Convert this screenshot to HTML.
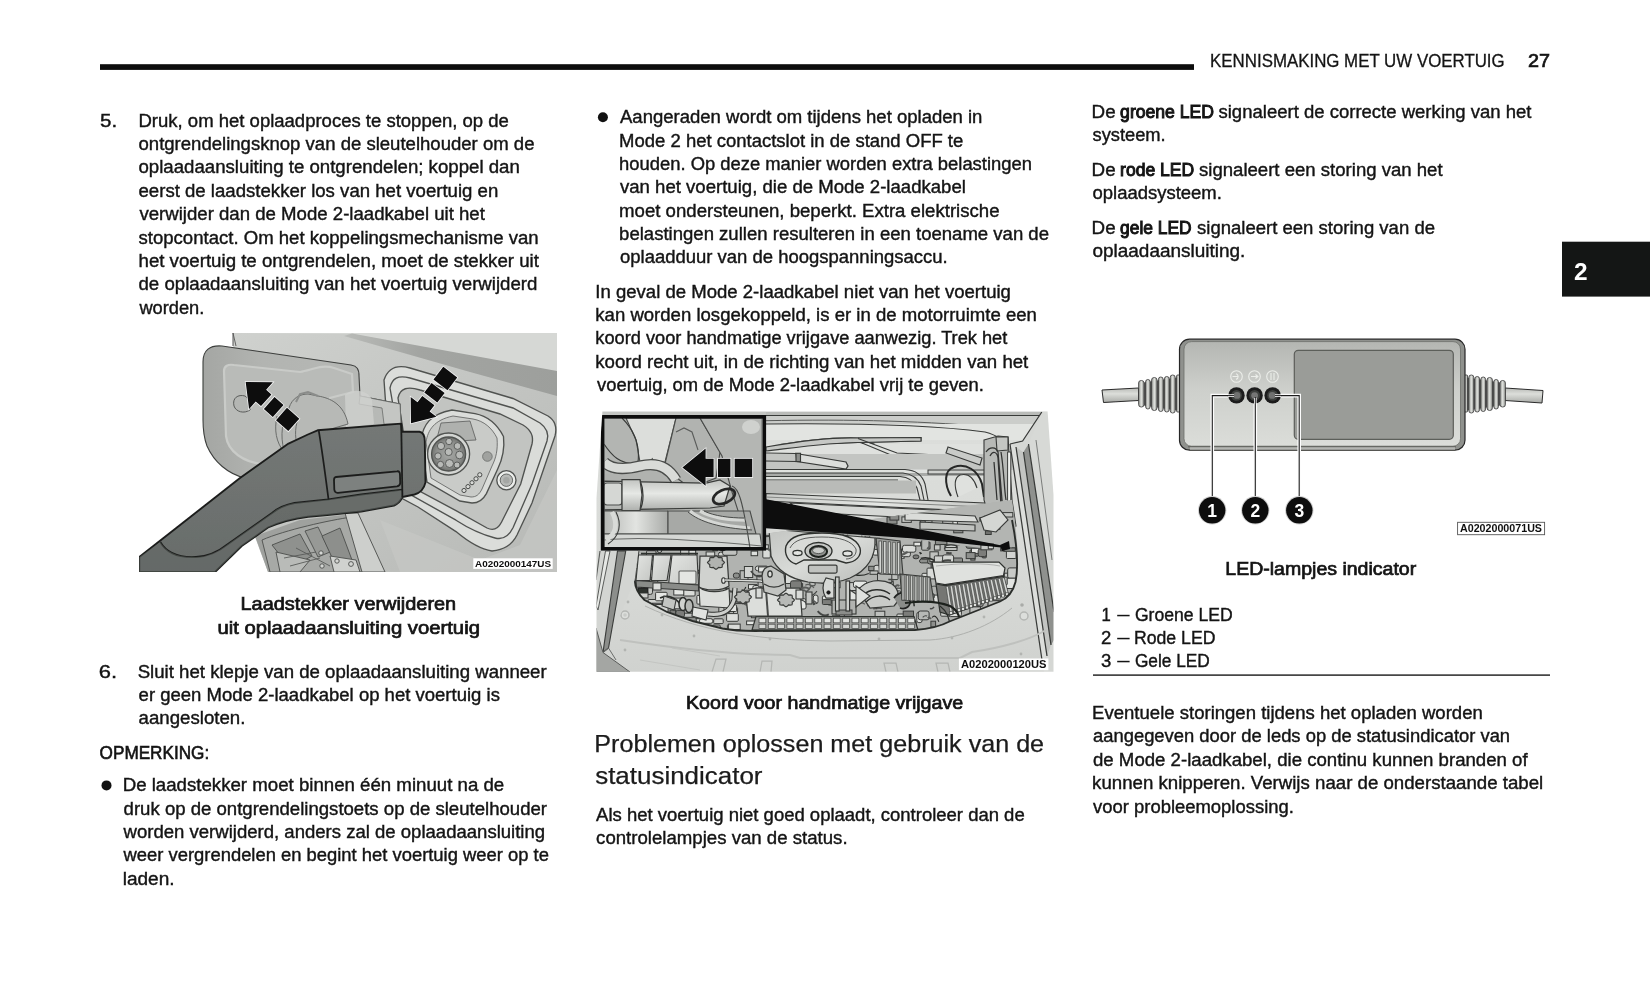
<!DOCTYPE html>
<html lang="nl"><head><meta charset="utf-8"><title>Kennismaking met uw voertuig</title>
<style>
html,body{margin:0;padding:0;background:#fff;}
body{width:1650px;height:1000px;overflow:hidden;position:relative;font-family:"Liberation Sans",sans-serif;}
svg{position:absolute;left:0;top:0;display:block;will-change:transform;}
text{font-family:"Liberation Sans",sans-serif;fill:#141414;stroke:#141414;stroke-width:0.4px;}
.t{font-size:18.0px;}
.bd{stroke-width:1.0px;}
.med{font-size:18.0px;stroke:#141414;stroke-width:0.6px;}
.cap{font-size:17.9px;stroke:#141414;stroke-width:0.7px;}
.h{font-size:24.2px;fill:#1c1c1c;stroke-width:0.25px;}
.hd{font-size:18.2px;stroke-width:0.3px;}
.hdn{font-size:18.2px;stroke:#141414;stroke-width:0.7px;}
.lbl{font-size:9px;font-weight:bold;fill:#111;}
</style></head>
<body>
<svg width="1650" height="1000" viewBox="0 0 1650 1000">
<defs><filter id="soft" x="-2%" y="-2%" width="104%" height="104%"><feGaussianBlur stdDeviation="0.45"/></filter></defs>
<!-- header rule -->
<rect x="100" y="64.2" width="1094" height="5.7" fill="#0d0d0d"/>
<!-- chapter tab -->
<rect x="1562" y="241.7" width="88" height="54.9" fill="#141615"/>
<text x="1573.9" y="280.0" style="font-size:24.6px;font-weight:bold;fill:#fff;stroke:none" textLength="13.6" lengthAdjust="spacingAndGlyphs">2</text>
<!-- bullets -->
<circle cx="106.5" cy="785.4" r="5.0" fill="#111"/>
<circle cx="602.9" cy="117.3" r="5.0" fill="#111"/>
<!-- legend dashes -->
<rect x="1117.2" y="614.8" width="12.4" height="1.5" fill="#141414"/><rect x="1117.2" y="637.8" width="12.4" height="1.5" fill="#141414"/><rect x="1117.2" y="660.8" width="12.4" height="1.5" fill="#141414"/>
<!-- legend rule -->
<rect x="1093" y="674.4" width="457" height="1.4" fill="#1a1a1a"/>
<!-- ===== image 1 : charge plug ===== -->
<defs>
<clipPath id="c1"><rect x="139.3" y="333" width="417.5" height="238.7"/></clipPath>
<linearGradient id="g1body" x1="0" y1="0" x2="1" y2="1"><stop offset="0" stop-color="#cfd1ce"/><stop offset="0.5" stop-color="#c3c5c2"/><stop offset="1" stop-color="#b7b9b6"/></linearGradient>
<linearGradient id="g1band" x1="0" y1="0" x2="1" y2="0"><stop offset="0" stop-color="#b9bbb8"/><stop offset="0.35" stop-color="#a3a5a2"/><stop offset="1" stop-color="#9d9f9c"/></linearGradient>
<linearGradient id="g1flap" x1="0" y1="0" x2="1" y2="0"><stop offset="0" stop-color="#a4a6a3"/><stop offset="0.3" stop-color="#b2b4b1"/><stop offset="1" stop-color="#b8bab7"/></linearGradient>
<linearGradient id="g1hand" x1="0" y1="0" x2="0" y2="1"><stop offset="0" stop-color="#747876"/><stop offset="1" stop-color="#686c6a"/></linearGradient>
<radialGradient id="g1sock" cx="0.5" cy="0.5" r="0.5"><stop offset="0" stop-color="#a6a8a5"/><stop offset="0.75" stop-color="#8b8d8a"/><stop offset="1" stop-color="#6f716e"/></radialGradient>
</defs>
<g id="img1" clip-path="url(#c1)"><g filter="url(#soft)">
<!-- car body -->
<path d="M233,333 L557,333 L557,572 L268,572 L255,537 L240,480 L233,345 Z" fill="url(#g1body)"/>
<path d="M236,333 L557,333 L557,372 L352,334 Z" fill="#d6d8d5"/>
<!-- diagonal shadow band -->
<path d="M344,336 L352,333.5 L557,371 L557,396 L470,372 Z" fill="url(#g1band)"/>
<path d="M233,333 L233,346" stroke="#555" stroke-width="1"/>
<!-- lower right body lighter patch -->
<path d="M557,470 L557,572 L400,572 L380,520 L480,560 L520,545 Z" fill="#c6c8c5" opacity="0.7"/>
<!-- wheel area -->
<path d="M255,536 L268,572 L372,572 L352,514 L300,520 Z" fill="#9fa19e"/>
<g stroke="#4c4e4c" stroke-width="0.9" fill="#c9cbc8">
<path d="M262,540 C285,530 330,520 352,517 L372,572 L270,572 Z" fill="#a7a9a6"/>
<path d="M272,545 L300,534 L312,556 L290,568 Z" fill="#8f918e"/>
<path d="M305,531 L318,527 L330,552 L318,557 Z" fill="#979996"/>
<path d="M322,536 L340,528 L352,560 L336,566 Z" fill="#8d8f8c"/>
<path d="M276,552 L310,560 L300,572 L280,572 Z" fill="#b9bbb8"/>
<path d="M330,556 L356,560 L360,572 L334,572 Z" fill="#d0d2cf"/>
<path d="M284,558 L316,552 M290,566 L320,558 M296,548 L330,566" fill="none" stroke="#595b59"/>
<circle cx="321" cy="553" r="2.2" fill="#d5d7d4"/><circle cx="337" cy="561" r="2.2" fill="#d5d7d4"/><circle cx="322" cy="566" r="2.2" fill="#d5d7d4"/><circle cx="351" cy="564" r="2.4" fill="#d5d7d4"/>
</g>
<!-- door gap lines under handle -->
<path d="M345,513 L358,513 L385,572 L362,572 Z" fill="#cdcfcc" stroke="#4a4c4a" stroke-width="0.9"/>
<!-- recess contours -->
<path d="M384,380 C388,368 396,364 410,368 L513,398.5 L548,416 C556,421 557,428 555,436 L545,465 L532,503 L517,535 C512,545 504,550 492,551 C478,549 466,540 456,531.6 L418,507 L392,493 Z" fill="#dbddda" stroke="#505250" stroke-width="1.35"/>
<path d="M390,388 C392,378 398,375 410,378 L513,408 L540,423 C547,428 549,434 547,441 L532,484 L513,527.8 C509,536 503,540 495,538 C480,534 468,528 456,520.2 L408.5,493.6 Z" fill="#dadcd9" stroke="#505250" stroke-width="1.35"/>
<path d="M398,398 C400,388 408,386 420,390 L500,414 L523,425 C531,430 534,436 532,444 L520.7,484 L501.6,522 C498,529 493,531 487,528 L456,510.7 L412,487 Z" fill="#c2c4c1" stroke="#505250" stroke-width="1.35"/>
<!-- port frame -->
<path d="M427,482 L421,440 C423,425 430,414 452,410 L475,413.7 C487,416 497,424 503.5,436.5 C505,450 502,460 497.8,468.8 L486.4,493.6 C483,500 479,503 472,503 L459.8,501 Z" fill="#dbddda" stroke="#505250" stroke-width="1.35"/>
<path d="M431,478 L426,442 C428,430 434,420 453,416 L473,419 C484,421 492,428 497,438 C498,450 496,458 492,466 L482,489 C479,495 476,497 471,497 L460,495 Z" fill="#c9cbc8" stroke="#5a5c5a" stroke-width="0.8"/>
<!-- socket -->
<path d="M441,423 L470,421 L476,440 L436,442 Z" fill="#afb1ae" stroke="#5a5c5a" stroke-width="0.8"/>
<circle cx="448.6" cy="454" r="21" fill="#d3d5d2" stroke="#505250" stroke-width="1.35"/>
<circle cx="448.6" cy="454" r="17" fill="url(#g1sock)" stroke="#505250" stroke-width="1.35"/>
<g fill="#b9bbb8" stroke="#555755" stroke-width="0.9">
<circle cx="441" cy="446" r="3.6"/><circle cx="449" cy="441.5" r="3.2"/><circle cx="457.5" cy="446" r="3.4"/>
<circle cx="438" cy="456" r="3.2"/><circle cx="448.6" cy="452" r="3.6"/><circle cx="459.5" cy="455" r="3.8"/>
<circle cx="440.5" cy="464.5" r="3.2"/><circle cx="449.5" cy="463.5" r="4"/><circle cx="457" cy="465" r="3"/>
</g>
<!-- small parts -->
<circle cx="487.4" cy="456.5" r="4.8" fill="#a0a29f" stroke="#6a6c6a" stroke-width="0.8"/>
<circle cx="506.4" cy="480.2" r="9.6" fill="#eceeeb" stroke="#505250" stroke-width="1.35"/>
<circle cx="506.4" cy="480.2" r="6.2" fill="#b7b9b6" stroke="#5a5c5a" stroke-width="0.9"/>
<circle cx="506.4" cy="480.2" r="3.2" fill="#a5a7a4"/>
<g fill="#d8dad7" stroke="#3c3e3c" stroke-width="0.9"><circle cx="464" cy="490.5" r="2.1"/><circle cx="468" cy="486.6" r="2.1"/><circle cx="472" cy="482.7" r="2.1"/><circle cx="476" cy="478.8" r="2.1"/><circle cx="479.8" cy="474.8" r="2.1"/></g>
<!-- flap door -->
<path d="M203,362 C203,350 210,345 222,346 L351,365 C357,366 359,369 359,376 L360,396 L400,404 L401,424 L314,432 L282,450 L245,478 C228,474 214,462 207,446 C204,438 203,430 203,420 Z" fill="url(#g1flap)" stroke="#3c3e3c" stroke-width="1.1"/>
<path d="M224,371 C224,366 228,364 234,365 L300,372 C312,370 322,364 334,368 L352,374 L353,392 L330,398 L312,432 L282,450 L262,464 C244,462 228,452 226,436 Z" fill="#b9bbb8" stroke="#c9cbc8" stroke-width="2.2"/>
<path d="M233,333 L236,346" stroke="#555" stroke-width="0.9"/>
<!-- hinge arm / latch shapes on flap -->
<path d="M360,396 L400,404 L401,424 L384,424 L382,408 L359,404 Z" fill="#c4c6c3" stroke="#6a6c6a" stroke-width="0.8"/>
<path d="M345,395 C352,388 368,390 372,400 L374,424 L346,428 Z" fill="#cfd1ce" opacity="0.8"/>
<path d="M289,408 C292,398 300,394 308,394 L318,396 C330,398 344,404 348,424 L300,438 L284,450 C280,436 282,420 289,408 Z" fill="#b7b9b6" stroke="#6a6c6a" stroke-width="1"/>
<path d="M296,402 L300,394 L308,392 L318,396" fill="none" stroke="#8a8c8a" stroke-width="2"/>
<path d="M277,416 C274,430 276,442 284,452 M297,422 C294,434 296,444 300,452" fill="none" stroke="#6a6c6a" stroke-width="1"/>
<path d="M245,396 C238,394 232,398 234,406 C236,412 244,414 250,410 L252,402 Z" fill="#b4b6b3" stroke="#5a5c5a" stroke-width="1"/>
<!-- handle -->
<path d="M139.3,557 L240,478 L288.5,443.6 L307.9,434.5 L317.6,430.3 L401.2,423.6 L402,431.8 L419.4,431.8 C423,432.5 424.8,436 424.8,441.2 L425.5,482.4 C424,489 420,493 414.5,494.5 L402.4,497 C400,502 398,504 394,505.5 L361.2,511.5 L324.8,515.2 L308,516.7 C290,519 278,523 268,527.5 L255,536.7 L241.7,546 L215,572 L139.3,572 Z" fill="url(#g1hand)" stroke="#1c1e1c" stroke-width="1.9" stroke-linejoin="round"/>
<path d="M402.4,489.7 L361.2,494.5 L328.5,499.4 L294.5,503 C284,505 278,508 272,513 L228,544 C218,552 208,556.5 196,557 C178,558 166,552 160.3,542" fill="none" stroke="#1c1e1c" stroke-width="1.8"/>
<path d="M402.4,489.7 L361.2,494.5 L328.5,499.4 L294.5,503 C284,505 278,508 272,513 L228,544 C218,552 208,556.5 196,557 C178,558 166,552 160.3,542 L139.3,557 L139.3,572 L215,572 L241.7,546 L255,536.7 L268,527.5 C278,523 290,519 308,516.7 L324.8,515.2 L361.2,511.5 L394,505.5 C398,504 400,502 402.4,497 Z" fill="#636765" opacity="0.55"/>
<path d="M318.8,431 C322,450 326,480 328.5,499.4" fill="none" stroke="#1c1e1c" stroke-width="1.7"/>
<path d="M401.2,423.6 L402.4,497" fill="none" stroke="#1c1e1c" stroke-width="1.8"/>
<path d="M336,477 L397,471.3 C399.5,471 400,473 400,475 L400.2,483 C400.2,485 399,486 397,486.3 L338,492.8 C335.5,493 334.5,491.5 334.3,489.5 L334,480 C334,478 334.5,477.2 336,477 Z" fill="#7d817f" stroke="#1c1e1c" stroke-width="1.8"/>
<!-- arrows -->
<polygon points="245.7,382.0 272.8,382.3 266.1,389.8 271.4,394.5 261.0,406.1 255.7,401.4 249.1,408.9" fill="#08080a" stroke="#f4f4f4" stroke-width="1.6" stroke-linejoin="miter" paint-order="stroke"/>
<polygon points="274.5,397.0 283.5,405.0 272.8,416.9 263.9,408.9" fill="#08080a" stroke="#f4f4f4" stroke-width="1.6" stroke-linejoin="miter" paint-order="stroke"/>
<polygon points="287.0,407.8 299.3,418.8 288.3,431.1 276.0,420.2" fill="#08080a" stroke="#f4f4f4" stroke-width="1.6" stroke-linejoin="miter" paint-order="stroke"/>
<polygon points="411.0,423.3 410.7,397.1 417.5,402.3 422.3,396.1 434.4,405.3 429.6,411.6 436.4,416.8" fill="#08080a" stroke="#f4f4f4" stroke-width="1.6" stroke-linejoin="miter" paint-order="stroke"/>
<polygon points="424.3,392.5 431.6,383.0 444.6,393.0 437.3,402.5" fill="#08080a" stroke="#f4f4f4" stroke-width="1.6" stroke-linejoin="miter" paint-order="stroke"/>
<polygon points="433.5,379.5 443.3,366.8 457.2,377.5 447.5,390.2" fill="#08080a" stroke="#f4f4f4" stroke-width="1.6" stroke-linejoin="miter" paint-order="stroke"/>
<!-- id label -->
<rect x="473.3" y="558.3" width="79.4" height="10.6" fill="#fff"/>
<text x="475" y="567.2" textLength="76" lengthAdjust="spacingAndGlyphs" style="font-size:9.6px;font-weight:bold;fill:#111;stroke:none">A0202000147US</text>
</g>
</g>

<!-- ===== image 2 : engine bay ===== -->
<defs>
<clipPath id="c2"><path d="M602.4,411.5 L1047.6,411.5 L1053.5,495 L1053.5,671.7 L596.5,671.7 L596.5,498 Z"/></clipPath>
<clipPath id="c2in"><rect x="604.3" y="418.1" width="157.3" height="129.2"/></clipPath>
<clipPath id="c2eng"><path d="M638.5,551 L1012,500 C1018,540 1020,570 1015.5,582 C1013,592 1008,597 1000,601 L949.5,621 C940,626 930,628.5 915,629.5 L755,630.5 C740,630.5 730,630 722.5,628.5 L692.5,621 L667,612 L644.5,600 C637,592 634,586 634.7,578 Z"/></clipPath>
<linearGradient id="g2h" x1="0" y1="0" x2="1" y2="0"><stop offset="0" stop-color="#c9cbc8"/><stop offset="0.5" stop-color="#e4e6e3"/><stop offset="1" stop-color="#c6c8c5"/></linearGradient>
<linearGradient id="g2tube" x1="0" y1="0" x2="0" y2="1"><stop offset="0" stop-color="#c2c4c1"/><stop offset="0.45" stop-color="#e6e8e5"/><stop offset="1" stop-color="#aeb0ad"/></linearGradient>
<linearGradient id="g2tubeh" x1="0" y1="0" x2="1" y2="0"><stop offset="0" stop-color="#b5b7b4"/><stop offset="0.5" stop-color="#e2e4e1"/><stop offset="1" stop-color="#a9aba8"/></linearGradient>
<linearGradient id="g2panel" x1="0" y1="0" x2="0" y2="1"><stop offset="0" stop-color="#dcdedb"/><stop offset="0.6" stop-color="#d8dad7"/><stop offset="1" stop-color="#d0d2cf"/></linearGradient>
<linearGradient id="g2cover" x1="0" y1="0" x2="1" y2="1"><stop offset="0" stop-color="#c3c5c2"/><stop offset="0.5" stop-color="#d9dbd8"/><stop offset="1" stop-color="#b9bbb8"/></linearGradient>
<linearGradient id="g2box" x1="0" y1="0" x2="1" y2="1"><stop offset="0" stop-color="#e3e5e2"/><stop offset="1" stop-color="#c4c6c3"/></linearGradient>
</defs>
<g id="img2" clip-path="url(#c2)"><g filter="url(#soft)">
<rect x="596.0" y="411.0" width="458.0" height="261.0" rx="0" fill="url(#g2panel)" stroke="none" stroke-width="0.00" />
<rect x="596.0" y="411.5" width="458.0" height="4.0" rx="0" fill="#babcb9" stroke="none" stroke-width="0.00" />
<path d="M596,415.5 H1054" fill="none" stroke="#383a38" stroke-width="1.12" />
<rect x="596.0" y="416.0" width="458.0" height="8.0" rx="0" fill="#cbcdca" stroke="none" stroke-width="0.00" />
<path d="M766,420.7 C850,419 930,421 1000,428" fill="none" stroke="#5a5c5a" stroke-width="1.00" />
<rect x="766.0" y="424.0" width="282.0" height="16.0" rx="0" fill="#e2e4e1" stroke="none" stroke-width="0.00" />
<path d="M766,424 C860,423 940,426 985,432 C1000,436 1005,442 1010,447" fill="none" stroke="#383a38" stroke-width="1.12" />
<path d="M766,447 C800,441 830,437 858,438 L921,437.5 L921,441 L860,442.5 C835,442 800,447 766,451 Z" fill="#cfd1ce" stroke="#383a38" stroke-width="1.12" />
<path d="M858,438 L895,452 L948,455" fill="none" stroke="#383a38" stroke-width="1.25" />
<path d="M860,442.5 L895,456 L948,459" fill="none" stroke="#5a5c5a" stroke-width="1.00" />
<rect x="766.0" y="444.0" width="254.0" height="10.0" rx="0" fill="#dfe1de" stroke="none" stroke-width="0.00" />
<path d="M766,447 C800,441 830,437 858,438 L921,437.5 L921,441 L860,442.5 C835,442 800,447 766,451 Z" fill="#c6c8c5" stroke="#383a38" stroke-width="1.12" />
<path d="M858,438.5 L897,453 L960,456 M862,443 L897,457.5 L960,461" fill="none" stroke="#383a38" stroke-width="1.12" />
<rect x="766.0" y="454.0" width="254.0" height="16.0" rx="0" fill="#c3c5c2" stroke="none" stroke-width="0.00" />
<polygon points="796.0,453.5 846.0,462.0 848.0,466.0 846.0,469.0 797.0,461.5" fill="#dcdedb" stroke="#383a38" stroke-width="1.25" />
<rect x="796.0" y="453.3" width="4.5" height="8.3" rx="0" fill="#8c8e8b" stroke="#383a38" stroke-width="1.12" />
<path d="M766,453 L796,453.5 M766,461 L797,461.5" fill="none" stroke="#383a38" stroke-width="1.12" />
<polygon points="948.0,447.0 982.0,458.0 980.0,465.0 946.0,453.0" fill="#c9cbc8" stroke="#383a38" stroke-width="1.12" />
<rect x="766.0" y="469.5" width="230.0" height="3.5" rx="0" fill="#e0e2df" stroke="none" stroke-width="0.00" />
<rect x="766.0" y="473.0" width="230.0" height="3.0" rx="0" fill="#a9aba8" stroke="none" stroke-width="0.00" />
<rect x="766.0" y="476.0" width="230.0" height="4.0" rx="0" fill="#dcdedb" stroke="none" stroke-width="0.00" />
<path d="M766,469.5 H905 C915,470 922,474 925,484 L928,500 M766,473 H903 C912,474 918,478 921,486 L924,500 M766,476.5 H900 C908,477 914,481 917,488 L920,500 M766,480 H898" fill="none" stroke="#383a38" stroke-width="1.12" />
<rect x="766.0" y="480.5" width="150.0" height="13.0" rx="0" fill="#b9bbb8" stroke="none" stroke-width="0.00" />
<rect x="928.0" y="470.0" width="60.0" height="4.0" rx="0" fill="#d0d2cf" stroke="#383a38" stroke-width="1.00" />
<path d="M951,496 C944,484 944,470 954,467 C966,463 978,470 982,484 L984,497" fill="none" stroke="#262826" stroke-width="2.00" />
<path d="M958,497 C954,486 954,478 960,475 C968,473 974,478 977,488" fill="#dfe1de" stroke="#383a38" stroke-width="1.12" />
<polygon points="766.0,493.5 985.0,503.0 988.0,507.0 984.0,511.5 766.0,501.0" fill="url(#g2h)" stroke="#383a38" stroke-width="1.25" />
<path d="M766,497 L985,507" fill="none" stroke="#7a7c7a" stroke-width="0.88" />
<polygon points="790.0,503.0 975.0,512.0 978.0,517.0 975.0,521.0 800.0,512.0" fill="#d6d8d5" stroke="#383a38" stroke-width="1.12" />
<polygon points="984.0,440.0 998.0,436.0 1008.0,437.0 1012.0,500.0 1016.0,526.0 1004.0,528.0 990.0,520.0 984.0,500.0" fill="#b7b9b6" stroke="#383a38" stroke-width="1.12" />
<polygon points="996.0,437.0 1008.0,437.0 1008.0,450.0 997.0,451.0" fill="#c4c6c3" stroke="#383a38" stroke-width="1.12" />
<path d="M986,452 C990,446 996,447 998,452 L1003,512 M990,456 C993,450 997,452 998,458 L1001,506 M994,462 L997,500 M1001,452 C1004,470 1004,488 1006,500" fill="none" stroke="#303230" stroke-width="1.25" />
<rect x="1007.6" y="452.0" width="3.2" height="52.0" rx="0" fill="#f0f2ef" stroke="#383a38" stroke-width="1.00" />
<rect x="1007.0" y="502.0" width="4.4" height="5.0" rx="0" fill="#d5d7d4" stroke="#383a38" stroke-width="1.00" />
<circle cx="1010.0" cy="524.0" r="2.6" fill="#c9cbc8" stroke="#383a38" stroke-width="1.12"/>
<polygon points="1010.0,444.0 1022.6,441.0 1041.8,412.0 1048.0,411.5 1054.0,411.5 1054.0,672.0 1044.0,672.0 1042.0,660.0" fill="#d5d7d4" stroke="none" stroke-width="0.00" />
<polygon points="1010.0,444.0 1016.0,447.0 1047.0,656.0 1042.0,660.0" fill="#dcdedb" stroke="none" stroke-width="0.00" />
<polygon points="1016.0,447.0 1023.0,452.0 1051.0,645.0 1047.0,656.0" fill="#c3c5c2" stroke="none" stroke-width="0.00" />
<polygon points="1023.5,452.0 1028.5,444.0 1054.0,612.0 1054.0,640.0 1051.0,645.0" fill="#8f918e" stroke="none" stroke-width="0.00" />
<polygon points="1028.5,444.0 1041.8,412.0 1054.0,411.5 1054.0,612.0" fill="#d7d9d6" stroke="none" stroke-width="0.00" />
<path d="M1010,444 L1042,660 M1016,447 L1047,656 M1023.5,452 L1051,645 M1028.5,444 L1054,612" fill="none" stroke="#383a38" stroke-width="1.25" />
<path d="M1041.8,412 L1022.6,441 L1010,444" fill="none" stroke="#383a38" stroke-width="1.25" />
<path d="M1036,440 L1052,560" fill="none" stroke="#7a7c7a" stroke-width="1.00" />
<g clip-path="url(#c2eng)">
<rect x="630.0" y="495.0" width="400.0" height="140.0" rx="0" fill="#b1b3b0" stroke="none" stroke-width="0.00" />
<rect x="757.1" y="544.8" width="11.2" height="3.6" rx="0" fill="#e6e8e5" stroke="#383a38" stroke-width="1.00" />
<rect x="772.8" y="535.7" width="9.6" height="3.3" rx="1" fill="#7b7d7a" stroke="#383a38" stroke-width="1.00" />
<rect x="662.1" y="538.9" width="8.7" height="9.6" rx="0" fill="#c8cac7" stroke="#383a38" stroke-width="1.00" />
<rect x="871.9" y="587.1" width="4.7" height="7.7" rx="0" fill="#d9dbd8" stroke="#383a38" stroke-width="1.00" />
<rect x="653.4" y="614.1" width="7.2" height="4.2" rx="2" fill="#c8cac7" stroke="#383a38" stroke-width="1.00" />
<rect x="751.4" y="610.0" width="6.0" height="7.7" rx="0" fill="#dddfdc" stroke="#383a38" stroke-width="1.00" />
<rect x="775.3" y="583.7" width="4.7" height="3.5" rx="1" fill="#b7b9b6" stroke="#383a38" stroke-width="1.00" />
<rect x="890.5" y="571.9" width="7.5" height="7.7" rx="1" fill="#bfc1be" stroke="#383a38" stroke-width="1.00" />
<rect x="748.1" y="607.8" width="11.7" height="5.0" rx="1" fill="#d2d4d1" stroke="#383a38" stroke-width="1.00" />
<rect x="832.4" y="615.8" width="12.0" height="5.3" rx="0" fill="#c8cac7" stroke="#383a38" stroke-width="1.00" />
<rect x="827.5" y="546.2" width="7.8" height="10.5" rx="0" fill="#7b7d7a" stroke="#383a38" stroke-width="1.00" />
<rect x="995.8" y="537.6" width="10.1" height="9.3" rx="1" fill="#cfd1ce" stroke="#383a38" stroke-width="1.00" />
<rect x="896.0" y="588.2" width="10.4" height="6.6" rx="1" fill="#c8cac7" stroke="#383a38" stroke-width="1.00" />
<rect x="813.3" y="595.1" width="4.7" height="8.6" rx="2" fill="#dddfdc" stroke="#383a38" stroke-width="1.00" />
<rect x="1007.4" y="610.5" width="7.1" height="6.1" rx="1" fill="#dddfdc" stroke="#383a38" stroke-width="1.00" />
<rect x="644.4" y="575.2" width="5.8" height="3.9" rx="0" fill="#d9dbd8" stroke="#383a38" stroke-width="1.00" />
<rect x="923.3" y="542.7" width="6.7" height="6.1" rx="0" fill="#bfc1be" stroke="#383a38" stroke-width="1.00" />
<rect x="698.2" y="569.4" width="7.1" height="4.1" rx="2" fill="#7b7d7a" stroke="#383a38" stroke-width="1.00" />
<rect x="740.1" y="570.7" width="7.9" height="10.1" rx="0" fill="#b7b9b6" stroke="#383a38" stroke-width="1.00" />
<rect x="667.0" y="544.8" width="11.2" height="3.1" rx="0" fill="#d2d4d1" stroke="#383a38" stroke-width="1.00" />
<rect x="734.3" y="530.4" width="8.6" height="6.0" rx="1" fill="#d2d4d1" stroke="#383a38" stroke-width="1.00" />
<rect x="992.5" y="597.7" width="9.7" height="7.9" rx="2" fill="#dddfdc" stroke="#383a38" stroke-width="1.00" />
<rect x="656.2" y="618.2" width="12.6" height="10.0" rx="1" fill="#e6e8e5" stroke="#383a38" stroke-width="1.00" />
<rect x="784.9" y="568.6" width="9.3" height="6.2" rx="0" fill="#b7b9b6" stroke="#383a38" stroke-width="1.00" />
<rect x="1004.3" y="573.2" width="5.2" height="7.8" rx="0" fill="#c8cac7" stroke="#383a38" stroke-width="1.00" />
<rect x="848.0" y="582.6" width="14.4" height="7.9" rx="0" fill="#c8cac7" stroke="#383a38" stroke-width="1.00" />
<rect x="865.7" y="544.6" width="6.8" height="5.8" rx="1" fill="#cfd1ce" stroke="#383a38" stroke-width="1.00" />
<rect x="681.9" y="613.2" width="14.9" height="6.7" rx="1" fill="#bfc1be" stroke="#383a38" stroke-width="1.00" />
<rect x="668.1" y="540.0" width="7.8" height="5.1" rx="2" fill="#e2e4e1" stroke="#383a38" stroke-width="1.00" />
<rect x="644.6" y="623.2" width="9.8" height="4.2" rx="0" fill="#e6e8e5" stroke="#383a38" stroke-width="1.00" />
<rect x="919.5" y="559.2" width="11.1" height="3.7" rx="2" fill="#8d8f8c" stroke="#383a38" stroke-width="1.00" />
<rect x="773.1" y="546.4" width="12.5" height="7.3" rx="1" fill="#e6e8e5" stroke="#383a38" stroke-width="1.00" />
<rect x="874.0" y="590.1" width="12.7" height="9.1" rx="0" fill="#b7b9b6" stroke="#383a38" stroke-width="1.00" />
<rect x="942.1" y="602.5" width="6.5" height="7.1" rx="2" fill="#cfd1ce" stroke="#383a38" stroke-width="1.00" />
<rect x="646.8" y="532.7" width="7.1" height="5.1" rx="1" fill="#d2d4d1" stroke="#383a38" stroke-width="1.00" />
<rect x="803.3" y="621.8" width="14.9" height="10.6" rx="0" fill="#cfd1ce" stroke="#383a38" stroke-width="1.00" />
<rect x="718.5" y="552.2" width="6.2" height="4.6" rx="2" fill="#d2d4d1" stroke="#383a38" stroke-width="1.00" />
<rect x="950.3" y="577.0" width="11.2" height="9.4" rx="2" fill="#c8cac7" stroke="#383a38" stroke-width="1.00" />
<rect x="680.8" y="568.1" width="11.8" height="4.6" rx="1" fill="#e2e4e1" stroke="#383a38" stroke-width="1.00" />
<rect x="931.1" y="562.6" width="12.8" height="10.8" rx="1" fill="#7b7d7a" stroke="#383a38" stroke-width="1.00" />
<rect x="786.1" y="622.8" width="12.0" height="4.4" rx="0" fill="#e2e4e1" stroke="#383a38" stroke-width="1.00" />
<rect x="692.5" y="618.7" width="12.9" height="4.2" rx="1" fill="#d2d4d1" stroke="#383a38" stroke-width="1.00" />
<rect x="881.8" y="564.3" width="10.0" height="4.0" rx="2" fill="#d9dbd8" stroke="#383a38" stroke-width="1.00" />
<rect x="879.0" y="581.6" width="14.3" height="6.5" rx="0" fill="#b7b9b6" stroke="#383a38" stroke-width="1.00" />
<rect x="646.5" y="550.9" width="9.5" height="9.1" rx="1" fill="#cfd1ce" stroke="#383a38" stroke-width="1.00" />
<rect x="839.6" y="611.8" width="4.7" height="8.9" rx="2" fill="#bfc1be" stroke="#383a38" stroke-width="1.00" />
<rect x="854.2" y="618.6" width="8.6" height="10.3" rx="0" fill="#e6e8e5" stroke="#383a38" stroke-width="1.00" />
<rect x="834.9" y="581.3" width="4.2" height="6.5" rx="2" fill="#e2e4e1" stroke="#383a38" stroke-width="1.00" />
<rect x="637.5" y="608.3" width="5.9" height="6.8" rx="2" fill="#c8cac7" stroke="#383a38" stroke-width="1.00" />
<rect x="659.1" y="596.9" width="9.8" height="6.9" rx="2" fill="#c8cac7" stroke="#383a38" stroke-width="1.00" />
<rect x="657.3" y="548.7" width="4.5" height="3.8" rx="2" fill="#bfc1be" stroke="#383a38" stroke-width="1.00" />
<rect x="646.4" y="617.6" width="4.7" height="5.6" rx="2" fill="#e6e8e5" stroke="#383a38" stroke-width="1.00" />
<rect x="827.5" y="597.9" width="9.0" height="7.3" rx="2" fill="#bfc1be" stroke="#383a38" stroke-width="1.00" />
<rect x="988.1" y="598.5" width="13.6" height="10.5" rx="2" fill="#8d8f8c" stroke="#383a38" stroke-width="1.00" />
<rect x="969.9" y="549.9" width="8.9" height="6.3" rx="1" fill="#7b7d7a" stroke="#383a38" stroke-width="1.00" />
<rect x="754.2" y="595.8" width="8.7" height="4.7" rx="0" fill="#8d8f8c" stroke="#383a38" stroke-width="1.00" />
<rect x="971.5" y="545.1" width="11.9" height="8.3" rx="1" fill="#e2e4e1" stroke="#383a38" stroke-width="1.00" />
<rect x="966.2" y="624.8" width="6.4" height="10.6" rx="1" fill="#7b7d7a" stroke="#383a38" stroke-width="1.00" />
<rect x="696.9" y="595.4" width="6.5" height="8.7" rx="1" fill="#e6e8e5" stroke="#383a38" stroke-width="1.00" />
<rect x="762.8" y="549.2" width="7.5" height="8.8" rx="1" fill="#d9dbd8" stroke="#383a38" stroke-width="1.00" />
<rect x="843.2" y="573.2" width="4.2" height="5.7" rx="1" fill="#d2d4d1" stroke="#383a38" stroke-width="1.00" />
<rect x="827.6" y="536.3" width="14.8" height="9.3" rx="0" fill="#c8cac7" stroke="#383a38" stroke-width="1.00" />
<rect x="735.3" y="533.9" width="12.6" height="5.2" rx="1" fill="#e2e4e1" stroke="#383a38" stroke-width="1.00" />
<rect x="953.7" y="596.2" width="14.4" height="6.2" rx="2" fill="#e6e8e5" stroke="#383a38" stroke-width="1.00" />
<rect x="849.4" y="598.6" width="5.0" height="3.5" rx="1" fill="#e2e4e1" stroke="#383a38" stroke-width="1.00" />
<rect x="970.8" y="556.4" width="4.2" height="3.7" rx="0" fill="#8d8f8c" stroke="#383a38" stroke-width="1.00" />
<rect x="863.5" y="551.8" width="6.9" height="4.0" rx="1" fill="#d9dbd8" stroke="#383a38" stroke-width="1.00" />
<rect x="1007.9" y="570.9" width="14.1" height="8.0" rx="2" fill="#d9dbd8" stroke="#383a38" stroke-width="1.00" />
<rect x="901.4" y="621.9" width="14.7" height="5.1" rx="0" fill="#e2e4e1" stroke="#383a38" stroke-width="1.00" />
<rect x="984.7" y="591.6" width="9.8" height="4.6" rx="2" fill="#bfc1be" stroke="#383a38" stroke-width="1.00" />
<rect x="887.4" y="556.5" width="12.8" height="11.0" rx="0" fill="#d9dbd8" stroke="#383a38" stroke-width="1.00" />
<rect x="642.9" y="579.6" width="14.8" height="7.1" rx="1" fill="#b7b9b6" stroke="#383a38" stroke-width="1.00" />
<rect x="675.7" y="610.3" width="8.8" height="7.0" rx="2" fill="#7b7d7a" stroke="#383a38" stroke-width="1.00" />
<rect x="751.1" y="551.1" width="6.5" height="4.6" rx="0" fill="#dddfdc" stroke="#383a38" stroke-width="1.00" />
<rect x="787.4" y="564.1" width="4.6" height="4.0" rx="2" fill="#c8cac7" stroke="#383a38" stroke-width="1.00" />
<rect x="913.1" y="555.0" width="5.8" height="3.7" rx="2" fill="#7b7d7a" stroke="#383a38" stroke-width="1.00" />
<rect x="886.8" y="557.6" width="6.7" height="5.3" rx="0" fill="#bfc1be" stroke="#383a38" stroke-width="1.00" />
<rect x="694.9" y="573.7" width="6.9" height="10.7" rx="1" fill="#e6e8e5" stroke="#383a38" stroke-width="1.00" />
<rect x="727.4" y="624.6" width="7.4" height="5.9" rx="1" fill="#d9dbd8" stroke="#383a38" stroke-width="1.00" />
<rect x="778.7" y="576.5" width="9.5" height="4.6" rx="0" fill="#e6e8e5" stroke="#383a38" stroke-width="1.00" />
<rect x="670.0" y="610.1" width="5.6" height="7.7" rx="0" fill="#7b7d7a" stroke="#383a38" stroke-width="1.00" />
<rect x="748.1" y="591.7" width="4.9" height="10.7" rx="2" fill="#e2e4e1" stroke="#383a38" stroke-width="1.00" />
<rect x="969.9" y="606.8" width="10.6" height="9.1" rx="0" fill="#bfc1be" stroke="#383a38" stroke-width="1.00" />
<rect x="742.3" y="590.6" width="5.6" height="9.6" rx="2" fill="#e6e8e5" stroke="#383a38" stroke-width="1.00" />
<rect x="796.5" y="598.7" width="9.6" height="10.3" rx="2" fill="#e6e8e5" stroke="#383a38" stroke-width="1.00" />
<rect x="948.3" y="608.9" width="13.1" height="7.7" rx="2" fill="#dddfdc" stroke="#383a38" stroke-width="1.00" />
<rect x="876.4" y="538.3" width="4.5" height="8.1" rx="1" fill="#c8cac7" stroke="#383a38" stroke-width="1.00" />
<rect x="948.6" y="584.7" width="10.9" height="8.0" rx="0" fill="#dddfdc" stroke="#383a38" stroke-width="1.00" />
<rect x="819.0" y="530.3" width="12.8" height="9.0" rx="2" fill="#e6e8e5" stroke="#383a38" stroke-width="1.00" />
<rect x="670.4" y="581.5" width="12.2" height="6.8" rx="1" fill="#c8cac7" stroke="#383a38" stroke-width="1.00" />
<rect x="723.8" y="604.1" width="6.5" height="8.2" rx="1" fill="#bfc1be" stroke="#383a38" stroke-width="1.00" />
<rect x="952.2" y="537.5" width="14.0" height="5.3" rx="2" fill="#d9dbd8" stroke="#383a38" stroke-width="1.00" />
<rect x="872.7" y="549.4" width="10.6" height="5.7" rx="2" fill="#dddfdc" stroke="#383a38" stroke-width="1.00" />
<rect x="895.1" y="590.9" width="5.5" height="6.9" rx="1" fill="#bfc1be" stroke="#383a38" stroke-width="1.00" />
<rect x="999.7" y="539.8" width="6.4" height="6.9" rx="1" fill="#e6e8e5" stroke="#383a38" stroke-width="1.00" />
<rect x="809.8" y="575.7" width="5.3" height="10.1" rx="1" fill="#b7b9b6" stroke="#383a38" stroke-width="1.00" />
<rect x="1001.8" y="621.8" width="4.2" height="6.7" rx="1" fill="#e6e8e5" stroke="#383a38" stroke-width="1.00" />
<rect x="1007.7" y="567.9" width="14.1" height="10.4" rx="2" fill="#c8cac7" stroke="#383a38" stroke-width="1.00" />
<rect x="669.8" y="603.3" width="6.9" height="5.9" rx="2" fill="#d2d4d1" stroke="#383a38" stroke-width="1.00" />
<rect x="826.3" y="616.9" width="11.7" height="4.9" rx="1" fill="#bfc1be" stroke="#383a38" stroke-width="1.00" />
<rect x="645.3" y="530.4" width="9.4" height="6.6" rx="2" fill="#8d8f8c" stroke="#383a38" stroke-width="1.00" />
<rect x="688.6" y="563.7" width="7.5" height="9.7" rx="1" fill="#d9dbd8" stroke="#383a38" stroke-width="1.00" />
<rect x="916.8" y="612.2" width="5.3" height="10.4" rx="2" fill="#d9dbd8" stroke="#383a38" stroke-width="1.00" />
<rect x="744.4" y="566.5" width="8.3" height="11.0" rx="0" fill="#d2d4d1" stroke="#383a38" stroke-width="1.00" />
<rect x="770.9" y="571.9" width="7.0" height="3.4" rx="0" fill="#c8cac7" stroke="#383a38" stroke-width="1.00" />
<rect x="948.2" y="558.0" width="14.3" height="5.0" rx="1" fill="#8d8f8c" stroke="#383a38" stroke-width="1.00" />
<rect x="827.1" y="548.6" width="8.1" height="10.6" rx="2" fill="#d9dbd8" stroke="#383a38" stroke-width="1.00" />
<rect x="785.6" y="615.8" width="10.1" height="4.6" rx="0" fill="#c8cac7" stroke="#383a38" stroke-width="1.00" />
<rect x="985.1" y="570.3" width="10.8" height="4.1" rx="1" fill="#8d8f8c" stroke="#383a38" stroke-width="1.00" />
<rect x="654.3" y="620.8" width="5.4" height="6.8" rx="1" fill="#cfd1ce" stroke="#383a38" stroke-width="1.00" />
<rect x="747.4" y="602.4" width="14.7" height="5.1" rx="0" fill="#dddfdc" stroke="#383a38" stroke-width="1.00" />
<rect x="748.5" y="584.6" width="8.3" height="4.3" rx="0" fill="#e2e4e1" stroke="#383a38" stroke-width="1.00" />
<rect x="713.7" y="618.8" width="9.5" height="4.8" rx="1" fill="#cfd1ce" stroke="#383a38" stroke-width="1.00" />
<rect x="795.9" y="583.7" width="6.7" height="4.4" rx="0" fill="#e6e8e5" stroke="#383a38" stroke-width="1.00" />
<rect x="755.4" y="566.1" width="12.9" height="4.6" rx="2" fill="#d9dbd8" stroke="#383a38" stroke-width="1.00" />
<rect x="961.6" y="567.5" width="12.2" height="4.7" rx="1" fill="#8d8f8c" stroke="#383a38" stroke-width="1.00" />
<rect x="917.3" y="578.8" width="10.3" height="5.9" rx="2" fill="#dddfdc" stroke="#383a38" stroke-width="1.00" />
<rect x="833.9" y="607.5" width="13.3" height="3.7" rx="1" fill="#b7b9b6" stroke="#383a38" stroke-width="1.00" />
<rect x="785.5" y="573.7" width="14.5" height="9.8" rx="0" fill="#d9dbd8" stroke="#383a38" stroke-width="1.00" />
<rect x="648.1" y="599.5" width="13.9" height="6.8" rx="1" fill="#d2d4d1" stroke="#383a38" stroke-width="1.00" />
<rect x="636.1" y="568.4" width="14.2" height="9.6" rx="1" fill="#bfc1be" stroke="#383a38" stroke-width="1.00" />
<rect x="728.9" y="540.7" width="5.7" height="7.2" rx="0" fill="#dddfdc" stroke="#383a38" stroke-width="1.00" />
<rect x="988.1" y="600.7" width="11.1" height="9.1" rx="0" fill="#bfc1be" stroke="#383a38" stroke-width="1.00" />
<rect x="842.3" y="533.9" width="12.6" height="4.9" rx="2" fill="#d9dbd8" stroke="#383a38" stroke-width="1.00" />
<rect x="903.4" y="624.3" width="10.9" height="7.2" rx="2" fill="#7b7d7a" stroke="#383a38" stroke-width="1.00" />
<rect x="921.7" y="539.7" width="7.3" height="10.5" rx="1" fill="#b7b9b6" stroke="#383a38" stroke-width="1.00" />
<rect x="733.6" y="607.5" width="4.0" height="7.3" rx="1" fill="#bfc1be" stroke="#383a38" stroke-width="1.00" />
<rect x="994.6" y="593.2" width="13.7" height="6.8" rx="2" fill="#b7b9b6" stroke="#383a38" stroke-width="1.00" />
<rect x="728.4" y="624.1" width="11.8" height="5.5" rx="0" fill="#d9dbd8" stroke="#383a38" stroke-width="1.00" />
<rect x="822.4" y="596.1" width="8.6" height="5.1" rx="1" fill="#dddfdc" stroke="#383a38" stroke-width="1.00" />
<rect x="982.0" y="552.2" width="4.4" height="5.7" rx="1" fill="#7b7d7a" stroke="#383a38" stroke-width="1.00" />
<rect x="891.3" y="549.4" width="12.8" height="8.9" rx="0" fill="#e6e8e5" stroke="#383a38" stroke-width="1.00" />
<rect x="712.8" y="625.0" width="7.4" height="9.6" rx="1" fill="#b7b9b6" stroke="#383a38" stroke-width="1.00" />
<rect x="718.8" y="604.5" width="7.2" height="10.6" rx="2" fill="#bfc1be" stroke="#383a38" stroke-width="1.00" />
<rect x="706.1" y="551.9" width="8.6" height="8.3" rx="0" fill="#d2d4d1" stroke="#383a38" stroke-width="1.00" />
<rect x="980.8" y="535.3" width="4.3" height="7.8" rx="0" fill="#7b7d7a" stroke="#383a38" stroke-width="1.00" />
<rect x="901.5" y="548.0" width="8.9" height="8.7" rx="2" fill="#cfd1ce" stroke="#383a38" stroke-width="1.00" />
<rect x="678.3" y="537.8" width="5.8" height="4.5" rx="2" fill="#dddfdc" stroke="#383a38" stroke-width="1.00" />
<rect x="915.1" y="533.1" width="11.3" height="6.0" rx="1" fill="#cfd1ce" stroke="#383a38" stroke-width="1.00" />
<rect x="801.5" y="540.7" width="4.9" height="3.6" rx="0" fill="#7b7d7a" stroke="#383a38" stroke-width="1.00" />
<rect x="845.9" y="604.4" width="8.2" height="9.1" rx="1" fill="#8d8f8c" stroke="#383a38" stroke-width="1.00" />
<rect x="668.8" y="599.1" width="6.2" height="7.3" rx="0" fill="#bfc1be" stroke="#383a38" stroke-width="1.00" />
<rect x="756.9" y="602.3" width="9.2" height="8.1" rx="2" fill="#b7b9b6" stroke="#383a38" stroke-width="1.00" />
<rect x="922.7" y="534.0" width="4.4" height="3.5" rx="1" fill="#d9dbd8" stroke="#383a38" stroke-width="1.00" />
<rect x="708.9" y="536.2" width="10.7" height="5.9" rx="2" fill="#cfd1ce" stroke="#383a38" stroke-width="1.00" />
<rect x="652.3" y="603.2" width="11.6" height="10.4" rx="0" fill="#8d8f8c" stroke="#383a38" stroke-width="1.00" />
<rect x="905.9" y="588.4" width="12.9" height="10.6" rx="0" fill="#c8cac7" stroke="#383a38" stroke-width="1.00" />
<rect x="944.9" y="540.5" width="11.9" height="6.7" rx="1" fill="#7b7d7a" stroke="#383a38" stroke-width="1.00" />
<rect x="977.7" y="609.9" width="5.5" height="7.0" rx="2" fill="#d9dbd8" stroke="#383a38" stroke-width="1.00" />
<rect x="749.4" y="597.8" width="5.7" height="4.9" rx="1" fill="#cfd1ce" stroke="#383a38" stroke-width="1.00" />
<rect x="771.3" y="606.7" width="4.9" height="4.6" rx="0" fill="#e2e4e1" stroke="#383a38" stroke-width="1.00" />
<rect x="788.5" y="593.7" width="9.3" height="7.4" rx="1" fill="#e2e4e1" stroke="#383a38" stroke-width="1.00" />
<rect x="966.4" y="626.8" width="6.9" height="3.7" rx="1" fill="#c8cac7" stroke="#383a38" stroke-width="1.00" />
<rect x="822.4" y="599.6" width="8.9" height="4.9" rx="1" fill="#7b7d7a" stroke="#383a38" stroke-width="1.00" />
<rect x="868.0" y="596.1" width="12.2" height="9.8" rx="0" fill="#dddfdc" stroke="#383a38" stroke-width="1.00" />
<rect x="927.6" y="558.8" width="7.1" height="5.1" rx="2" fill="#8d8f8c" stroke="#383a38" stroke-width="1.00" />
<rect x="733.4" y="573.1" width="6.0" height="4.9" rx="2" fill="#8d8f8c" stroke="#383a38" stroke-width="1.00" />
<rect x="706.4" y="536.4" width="6.8" height="5.0" rx="0" fill="#e6e8e5" stroke="#383a38" stroke-width="1.00" />
<rect x="879.0" y="539.9" width="9.1" height="3.3" rx="1" fill="#d9dbd8" stroke="#383a38" stroke-width="1.00" />
<rect x="966.2" y="552.6" width="8.9" height="6.0" rx="0" fill="#8d8f8c" stroke="#383a38" stroke-width="1.00" />
<rect x="680.6" y="548.6" width="14.7" height="7.7" rx="1" fill="#c8cac7" stroke="#383a38" stroke-width="1.00" />
<rect x="827.7" y="547.4" width="10.6" height="9.2" rx="0" fill="#dddfdc" stroke="#383a38" stroke-width="1.00" />
<rect x="675.6" y="588.4" width="10.8" height="4.7" rx="1" fill="#cfd1ce" stroke="#383a38" stroke-width="1.00" />
<rect x="688.9" y="550.0" width="6.8" height="7.8" rx="0" fill="#dddfdc" stroke="#383a38" stroke-width="1.00" />
<rect x="940.7" y="610.2" width="8.5" height="6.0" rx="1" fill="#d2d4d1" stroke="#383a38" stroke-width="1.00" />
<rect x="665.1" y="533.1" width="9.5" height="6.9" rx="0" fill="#7b7d7a" stroke="#383a38" stroke-width="1.00" />
<rect x="933.6" y="595.1" width="5.7" height="7.3" rx="0" fill="#dddfdc" stroke="#383a38" stroke-width="1.00" />
<rect x="784.8" y="556.6" width="14.9" height="8.3" rx="0" fill="#7b7d7a" stroke="#383a38" stroke-width="1.00" />
<rect x="752.8" y="585.5" width="7.9" height="6.3" rx="2" fill="#cfd1ce" stroke="#383a38" stroke-width="1.00" />
<rect x="709.8" y="601.3" width="6.2" height="3.0" rx="1" fill="#e2e4e1" stroke="#383a38" stroke-width="1.00" />
<rect x="678.5" y="538.9" width="10.4" height="5.9" rx="0" fill="#e2e4e1" stroke="#383a38" stroke-width="1.00" />
<rect x="641.5" y="584.1" width="11.0" height="10.3" rx="2" fill="#c8cac7" stroke="#383a38" stroke-width="1.00" />
<rect x="868.7" y="566.3" width="9.5" height="4.2" rx="0" fill="#8d8f8c" stroke="#383a38" stroke-width="1.00" />
<rect x="830.9" y="620.7" width="5.2" height="6.9" rx="1" fill="#b7b9b6" stroke="#383a38" stroke-width="1.00" />
<rect x="683.4" y="622.4" width="14.7" height="6.9" rx="2" fill="#d9dbd8" stroke="#383a38" stroke-width="1.00" />
<rect x="982.4" y="568.0" width="13.9" height="8.0" rx="2" fill="#e2e4e1" stroke="#383a38" stroke-width="1.00" />
<rect x="929.9" y="551.8" width="8.4" height="9.8" rx="0" fill="#bfc1be" stroke="#383a38" stroke-width="1.00" />
<rect x="847.5" y="534.1" width="14.3" height="4.3" rx="0" fill="#cfd1ce" stroke="#383a38" stroke-width="1.00" />
<rect x="691.9" y="625.1" width="13.0" height="4.5" rx="2" fill="#e6e8e5" stroke="#383a38" stroke-width="1.00" />
<rect x="650.3" y="612.1" width="5.3" height="7.8" rx="2" fill="#e6e8e5" stroke="#383a38" stroke-width="1.00" />
<rect x="927.0" y="593.6" width="7.4" height="5.0" rx="2" fill="#7b7d7a" stroke="#383a38" stroke-width="1.00" />
<rect x="773.4" y="579.4" width="6.0" height="3.0" rx="1" fill="#bfc1be" stroke="#383a38" stroke-width="1.00" />
<rect x="724.0" y="604.8" width="12.6" height="6.7" rx="1" fill="#e2e4e1" stroke="#383a38" stroke-width="1.00" />
<rect x="785.7" y="536.6" width="7.9" height="5.9" rx="2" fill="#bfc1be" stroke="#383a38" stroke-width="1.00" />
<rect x="826.8" y="534.0" width="11.0" height="3.7" rx="2" fill="#cfd1ce" stroke="#383a38" stroke-width="1.00" />
<rect x="827.3" y="535.3" width="9.5" height="6.0" rx="0" fill="#e2e4e1" stroke="#383a38" stroke-width="1.00" />
<rect x="956.5" y="627.6" width="12.1" height="9.5" rx="0" fill="#b7b9b6" stroke="#383a38" stroke-width="1.00" />
<rect x="1003.2" y="578.2" width="14.5" height="10.3" rx="2" fill="#e2e4e1" stroke="#383a38" stroke-width="1.00" />
<rect x="930.9" y="621.2" width="4.7" height="5.8" rx="0" fill="#8d8f8c" stroke="#383a38" stroke-width="1.00" />
<rect x="757.1" y="590.1" width="14.0" height="6.7" rx="2" fill="#8d8f8c" stroke="#383a38" stroke-width="1.00" />
<rect x="996.7" y="577.1" width="10.5" height="7.9" rx="1" fill="#b7b9b6" stroke="#383a38" stroke-width="1.00" />
<rect x="775.2" y="549.5" width="8.4" height="8.1" rx="2" fill="#8d8f8c" stroke="#383a38" stroke-width="1.00" />
<rect x="758.6" y="566.9" width="12.7" height="5.1" rx="0" fill="#e6e8e5" stroke="#383a38" stroke-width="1.00" />
<rect x="874.0" y="565.3" width="13.6" height="7.4" rx="2" fill="#d2d4d1" stroke="#383a38" stroke-width="1.00" />
<rect x="966.1" y="540.3" width="14.9" height="8.0" rx="2" fill="#7b7d7a" stroke="#383a38" stroke-width="1.00" />
<rect x="934.3" y="555.9" width="14.9" height="7.6" rx="1" fill="#cfd1ce" stroke="#383a38" stroke-width="1.00" />
<rect x="922.0" y="573.3" width="5.9" height="8.9" rx="1" fill="#d9dbd8" stroke="#383a38" stroke-width="1.00" />
<rect x="942.6" y="554.9" width="11.0" height="10.9" rx="2" fill="#d2d4d1" stroke="#383a38" stroke-width="1.00" />
<rect x="971.0" y="601.8" width="12.2" height="4.8" rx="2" fill="#8d8f8c" stroke="#383a38" stroke-width="1.00" />
<rect x="870.0" y="570.9" width="8.0" height="3.4" rx="0" fill="#bfc1be" stroke="#383a38" stroke-width="1.00" />
<rect x="865.1" y="534.5" width="4.6" height="7.5" rx="0" fill="#8d8f8c" stroke="#383a38" stroke-width="1.00" />
<rect x="831.6" y="582.3" width="8.5" height="5.4" rx="0" fill="#e2e4e1" stroke="#383a38" stroke-width="1.00" />
<rect x="773.0" y="611.2" width="5.7" height="3.1" rx="2" fill="#b7b9b6" stroke="#383a38" stroke-width="1.00" />
<rect x="691.8" y="539.4" width="11.0" height="10.0" rx="1" fill="#8d8f8c" stroke="#383a38" stroke-width="1.00" />
<rect x="939.5" y="624.8" width="4.6" height="9.6" rx="2" fill="#cfd1ce" stroke="#383a38" stroke-width="1.00" />
<rect x="877.5" y="573.5" width="14.3" height="8.9" rx="0" fill="#b7b9b6" stroke="#383a38" stroke-width="1.00" />
<rect x="973.9" y="534.3" width="9.8" height="6.2" rx="0" fill="#b7b9b6" stroke="#383a38" stroke-width="1.00" />
<rect x="657.8" y="606.3" width="4.1" height="7.4" rx="0" fill="#b7b9b6" stroke="#383a38" stroke-width="1.00" />
<rect x="790.5" y="580.8" width="11.1" height="8.2" rx="2" fill="#7b7d7a" stroke="#383a38" stroke-width="1.00" />
<rect x="701.3" y="560.3" width="7.3" height="3.4" rx="2" fill="#bfc1be" stroke="#383a38" stroke-width="1.00" />
<rect x="837.4" y="566.8" width="8.8" height="10.3" rx="2" fill="#c8cac7" stroke="#383a38" stroke-width="1.00" />
<rect x="881.2" y="547.2" width="15.0" height="5.1" rx="0" fill="#dddfdc" stroke="#383a38" stroke-width="1.00" />
<rect x="682.1" y="617.3" width="14.2" height="10.5" rx="2" fill="#8d8f8c" stroke="#383a38" stroke-width="1.00" />
<rect x="655.6" y="592.3" width="11.5" height="8.5" rx="1" fill="#e6e8e5" stroke="#383a38" stroke-width="1.00" />
<rect x="746.6" y="621.0" width="13.8" height="3.7" rx="0" fill="#e6e8e5" stroke="#383a38" stroke-width="1.00" />
<rect x="699.5" y="618.7" width="13.3" height="4.6" rx="2" fill="#e2e4e1" stroke="#383a38" stroke-width="1.00" />
<rect x="978.2" y="548.8" width="8.3" height="7.8" rx="2" fill="#7b7d7a" stroke="#383a38" stroke-width="1.00" />
<rect x="980.7" y="626.2" width="13.3" height="7.3" rx="2" fill="#bfc1be" stroke="#383a38" stroke-width="1.00" />
<rect x="896.9" y="614.0" width="8.8" height="8.8" rx="1" fill="#d2d4d1" stroke="#383a38" stroke-width="1.00" />
<rect x="931.2" y="568.4" width="10.4" height="7.5" rx="0" fill="#e2e4e1" stroke="#383a38" stroke-width="1.00" />
<rect x="648.3" y="541.0" width="10.8" height="4.3" rx="2" fill="#e2e4e1" stroke="#383a38" stroke-width="1.00" />
<rect x="646.7" y="534.1" width="11.6" height="8.1" rx="2" fill="#c8cac7" stroke="#383a38" stroke-width="1.00" />
<rect x="653.5" y="613.9" width="12.4" height="4.6" rx="2" fill="#e6e8e5" stroke="#383a38" stroke-width="1.00" />
<rect x="660.7" y="615.0" width="14.1" height="10.6" rx="0" fill="#c8cac7" stroke="#383a38" stroke-width="1.00" />
<rect x="712.9" y="541.0" width="4.4" height="9.8" rx="0" fill="#dddfdc" stroke="#383a38" stroke-width="1.00" />
<rect x="944.6" y="591.9" width="7.2" height="3.8" rx="2" fill="#c8cac7" stroke="#383a38" stroke-width="1.00" />
<rect x="712.7" y="561.3" width="8.7" height="3.2" rx="1" fill="#8d8f8c" stroke="#383a38" stroke-width="1.00" />
<rect x="654.1" y="604.5" width="14.0" height="9.2" rx="2" fill="#d2d4d1" stroke="#383a38" stroke-width="1.00" />
<rect x="814.1" y="558.2" width="12.2" height="9.3" rx="1" fill="#d9dbd8" stroke="#383a38" stroke-width="1.00" />
<rect x="830.0" y="539.6" width="9.2" height="3.4" rx="0" fill="#d2d4d1" stroke="#383a38" stroke-width="1.00" />
<rect x="903.2" y="611.1" width="10.3" height="5.3" rx="0" fill="#7b7d7a" stroke="#383a38" stroke-width="1.00" />
<rect x="831.8" y="558.3" width="12.3" height="3.4" rx="1" fill="#cfd1ce" stroke="#383a38" stroke-width="1.00" />
<rect x="671.8" y="598.1" width="13.1" height="10.7" rx="1" fill="#d2d4d1" stroke="#383a38" stroke-width="1.00" />
<rect x="994.0" y="580.5" width="10.4" height="4.3" rx="2" fill="#b7b9b6" stroke="#383a38" stroke-width="1.00" />
<rect x="722.6" y="546.2" width="14.3" height="9.1" rx="2" fill="#bfc1be" stroke="#383a38" stroke-width="1.00" />
<rect x="845.9" y="540.2" width="7.6" height="3.8" rx="2" fill="#7b7d7a" stroke="#383a38" stroke-width="1.00" />
<rect x="668.2" y="617.1" width="4.3" height="4.6" rx="1" fill="#8d8f8c" stroke="#383a38" stroke-width="1.00" />
<rect x="973.1" y="579.1" width="8.2" height="10.1" rx="1" fill="#b7b9b6" stroke="#383a38" stroke-width="1.00" />
<rect x="683.5" y="588.2" width="11.6" height="7.8" rx="1" fill="#d9dbd8" stroke="#383a38" stroke-width="1.00" />
<rect x="853.5" y="581.1" width="13.5" height="6.6" rx="2" fill="#e6e8e5" stroke="#383a38" stroke-width="1.00" />
<rect x="756.9" y="575.4" width="11.6" height="5.1" rx="0" fill="#b7b9b6" stroke="#383a38" stroke-width="1.00" />
<rect x="760.9" y="593.0" width="11.7" height="7.1" rx="1" fill="#8d8f8c" stroke="#383a38" stroke-width="1.00" />
<rect x="918.3" y="611.0" width="10.8" height="8.8" rx="2" fill="#b7b9b6" stroke="#383a38" stroke-width="1.00" />
<rect x="758.1" y="581.2" width="5.8" height="5.6" rx="1" fill="#b7b9b6" stroke="#383a38" stroke-width="1.00" />
<rect x="1000.7" y="601.4" width="5.1" height="10.7" rx="0" fill="#c8cac7" stroke="#383a38" stroke-width="1.00" />
<rect x="779.7" y="626.4" width="12.7" height="8.9" rx="1" fill="#7b7d7a" stroke="#383a38" stroke-width="1.00" />
<rect x="709.4" y="592.5" width="5.2" height="4.7" rx="1" fill="#7b7d7a" stroke="#383a38" stroke-width="1.00" />
<rect x="648.7" y="569.1" width="12.7" height="8.5" rx="2" fill="#e6e8e5" stroke="#383a38" stroke-width="1.00" />
<rect x="746.8" y="532.2" width="6.8" height="8.9" rx="2" fill="#d9dbd8" stroke="#383a38" stroke-width="1.00" />
<rect x="726.6" y="613.6" width="11.7" height="7.7" rx="1" fill="#dddfdc" stroke="#383a38" stroke-width="1.00" />
<rect x="952.4" y="595.5" width="11.2" height="10.0" rx="2" fill="#dddfdc" stroke="#383a38" stroke-width="1.00" />
<rect x="854.3" y="552.4" width="6.0" height="4.0" rx="1" fill="#7b7d7a" stroke="#383a38" stroke-width="1.00" />
<rect x="733.2" y="598.7" width="13.8" height="4.9" rx="2" fill="#7b7d7a" stroke="#383a38" stroke-width="1.00" />
<rect x="902.5" y="545.3" width="13.3" height="6.9" rx="2" fill="#d9dbd8" stroke="#383a38" stroke-width="1.00" />
<rect x="957.1" y="580.8" width="11.3" height="10.0" rx="1" fill="#dddfdc" stroke="#383a38" stroke-width="1.00" />
<rect x="927.0" y="568.1" width="9.4" height="10.8" rx="1" fill="#d9dbd8" stroke="#383a38" stroke-width="1.00" />
<rect x="839.2" y="545.8" width="12.6" height="10.5" rx="1" fill="#e6e8e5" stroke="#383a38" stroke-width="1.00" />
<rect x="673.8" y="586.3" width="10.0" height="8.7" rx="0" fill="#e6e8e5" stroke="#383a38" stroke-width="1.00" />
<rect x="875.1" y="611.2" width="9.7" height="6.3" rx="0" fill="#bfc1be" stroke="#383a38" stroke-width="1.00" />
<rect x="1006.4" y="548.0" width="9.7" height="10.5" rx="1" fill="#d2d4d1" stroke="#383a38" stroke-width="1.00" />
<path d="M872.7,557.7 q-1.7,-7.9 -3.3,-3.9" fill="none" stroke="#444644" stroke-width="1.12" />
<path d="M974.1,591.6 q2.4,1.4 4.9,0.7" fill="none" stroke="#2c2e2c" stroke-width="1.12" />
<path d="M750.8,571.0 q6.4,8.5 12.7,4.2" fill="none" stroke="#444644" stroke-width="1.50" />
<path d="M717.4,546.6 q3.9,5.6 7.7,2.8" fill="none" stroke="#2c2e2c" stroke-width="2.00" />
<path d="M811.2,585.6 q-3.8,8.3 -7.7,4.2" fill="none" stroke="#5a5c5a" stroke-width="1.50" />
<path d="M873.2,608.7 q4.4,-0.6 8.9,-0.3" fill="none" stroke="#5a5c5a" stroke-width="1.50" />
<path d="M877.1,605.2 q-0.4,5.1 -0.9,2.6" fill="none" stroke="#444644" stroke-width="1.12" />
<path d="M897.0,596.9 q6.8,3.2 13.5,1.6" fill="none" stroke="#2c2e2c" stroke-width="1.50" />
<path d="M934.0,606.9 q-2.0,2.8 -4.0,1.4" fill="none" stroke="#444644" stroke-width="1.50" />
<path d="M817.0,591.1 q-5.8,7.1 -11.6,3.6" fill="none" stroke="#444644" stroke-width="1.12" />
<path d="M951.9,540.1 q4.6,7.3 9.2,3.7" fill="none" stroke="#5a5c5a" stroke-width="1.12" />
<path d="M943.4,592.0 q-6.8,-8.8 -13.6,-4.4" fill="none" stroke="#5a5c5a" stroke-width="1.12" />
<path d="M746.9,589.7 q1.1,6.4 2.2,3.2" fill="none" stroke="#444644" stroke-width="1.12" />
<path d="M766.5,548.7 q5.7,5.3 11.3,2.6" fill="none" stroke="#5a5c5a" stroke-width="1.12" />
<path d="M965.3,589.8 q3.9,3.0 7.9,1.5" fill="none" stroke="#5a5c5a" stroke-width="2.00" />
<path d="M946.2,552.8 q2.7,0.6 5.4,0.3" fill="none" stroke="#444644" stroke-width="2.00" />
<path d="M885.0,545.5 q-5.3,-1.5 -10.7,-0.7" fill="none" stroke="#444644" stroke-width="1.12" />
<path d="M820.0,540.3 q-0.5,-6.4 -0.9,-3.2" fill="none" stroke="#2c2e2c" stroke-width="1.50" />
<path d="M821.8,583.6 q5.1,-8.9 10.2,-4.4" fill="none" stroke="#444644" stroke-width="1.50" />
<path d="M894.0,579.8 q-2.8,-0.6 -5.7,-0.3" fill="none" stroke="#444644" stroke-width="1.50" />
<path d="M1005.0,595.8 q-4.5,-2.5 -8.9,-1.3" fill="none" stroke="#2c2e2c" stroke-width="2.00" />
<path d="M647.5,539.1 q3.3,9.0 6.6,4.5" fill="none" stroke="#5a5c5a" stroke-width="1.12" />
<path d="M816.7,603.1 q-5.0,-5.2 -10.0,-2.6" fill="none" stroke="#5a5c5a" stroke-width="1.50" />
<path d="M686.3,543.5 q2.2,-2.9 4.5,-1.4" fill="none" stroke="#5a5c5a" stroke-width="2.00" />
<path d="M921.3,554.0 q-0.9,-1.4 -1.8,-0.7" fill="none" stroke="#2c2e2c" stroke-width="2.00" />
<path d="M941.8,561.4 q4.6,-1.7 9.2,-0.9" fill="none" stroke="#444644" stroke-width="2.00" />
<path d="M958.6,566.0 q-4.2,-0.1 -8.3,-0.1" fill="none" stroke="#444644" stroke-width="1.12" />
<path d="M710.2,599.2 q-5.2,8.5 -10.4,4.3" fill="none" stroke="#2c2e2c" stroke-width="1.12" />
<path d="M785.6,584.9 q-1.3,1.3 -2.6,0.7" fill="none" stroke="#444644" stroke-width="1.50" />
<path d="M679.6,539.2 q4.5,-0.4 9.0,-0.2" fill="none" stroke="#2c2e2c" stroke-width="2.00" />
<path d="M928.0,616.9 q1.6,2.1 3.1,1.1" fill="none" stroke="#5a5c5a" stroke-width="2.00" />
<path d="M894.2,588.7 q2.5,-5.2 5.1,-2.6" fill="none" stroke="#5a5c5a" stroke-width="2.00" />
<path d="M807.1,603.6 q-5.6,-5.7 -11.2,-2.9" fill="none" stroke="#444644" stroke-width="1.12" />
<path d="M922.7,617.3 q2.2,-2.4 4.4,-1.2" fill="none" stroke="#444644" stroke-width="1.12" />
<path d="M845.2,558.2 q-2.8,-1.4 -5.5,-0.7" fill="none" stroke="#2c2e2c" stroke-width="1.50" />
<path d="M797.2,592.8 q6.1,-8.0 12.1,-4.0" fill="none" stroke="#5a5c5a" stroke-width="2.00" />
<path d="M654.4,545.7 q4.3,1.4 8.7,0.7" fill="none" stroke="#444644" stroke-width="1.50" />
<path d="M664.5,596.2 q1.3,8.9 2.6,4.4" fill="none" stroke="#2c2e2c" stroke-width="2.00" />
<path d="M813.5,572.1 q-5.6,2.6 -11.1,1.3" fill="none" stroke="#2c2e2c" stroke-width="1.12" />
<path d="M868.8,573.4 q-6.9,3.0 -13.7,1.5" fill="none" stroke="#2c2e2c" stroke-width="1.12" />
<path d="M957.4,546.6 q-6.8,3.9 -13.5,2.0" fill="none" stroke="#444644" stroke-width="1.12" />
<path d="M907.7,551.9 q-6.3,4.9 -12.6,2.5" fill="none" stroke="#5a5c5a" stroke-width="2.00" />
<path d="M952.3,600.7 q-5.8,2.3 -11.6,1.2" fill="none" stroke="#444644" stroke-width="2.00" />
<path d="M808.1,618.9 q-3.4,8.4 -6.9,4.2" fill="none" stroke="#2c2e2c" stroke-width="2.00" />
<path d="M644.2,536.3 q2.1,5.7 4.2,2.9" fill="none" stroke="#444644" stroke-width="1.12" />
<path d="M753.5,600.6 q-4.7,6.5 -9.4,3.2" fill="none" stroke="#5a5c5a" stroke-width="1.50" />
<path d="M661.8,568.1 q1.0,-1.1 2.1,-0.6" fill="none" stroke="#2c2e2c" stroke-width="2.00" />
<path d="M692.9,606.8 q-1.9,2.6 -3.8,1.3" fill="none" stroke="#444644" stroke-width="2.00" />
<path d="M814.1,605.0 q-0.7,-4.1 -1.3,-2.1" fill="none" stroke="#444644" stroke-width="2.00" />
<path d="M746.7,540.5 q6.6,3.7 13.3,1.8" fill="none" stroke="#444644" stroke-width="2.00" />
<path d="M957.4,600.3 q-6.8,-6.3 -13.6,-3.1" fill="none" stroke="#5a5c5a" stroke-width="1.50" />
<path d="M796.4,614.9 q-1.7,3.3 -3.5,1.7" fill="none" stroke="#2c2e2c" stroke-width="2.00" />
<path d="M934.7,560.5 q-7.0,-4.3 -14.0,-2.1" fill="none" stroke="#2c2e2c" stroke-width="1.50" />
<path d="M854.1,608.4 q5.4,-8.2 10.8,-4.1" fill="none" stroke="#5a5c5a" stroke-width="1.12" />
<path d="M693.7,622.8 q4.2,0.9 8.3,0.4" fill="none" stroke="#444644" stroke-width="1.50" />
<path d="M835.1,583.6 q-0.2,-2.1 -0.4,-1.1" fill="none" stroke="#2c2e2c" stroke-width="2.00" />
<path d="M753.0,540.2 q-1.5,3.8 -2.9,1.9" fill="none" stroke="#5a5c5a" stroke-width="1.50" />
<path d="M914.2,606.2 q-0.6,-7.4 -1.1,-3.7" fill="none" stroke="#2c2e2c" stroke-width="1.50" />
<path d="M725.0,587.2 q5.6,6.9 11.1,3.5" fill="none" stroke="#444644" stroke-width="2.00" />
<path d="M814.0,588.0 q-4.4,-5.5 -8.7,-2.8" fill="none" stroke="#5a5c5a" stroke-width="1.12" />
<path d="M745.8,587.0 q-2.0,5.0 -4.0,2.5" fill="none" stroke="#2c2e2c" stroke-width="1.12" />
<path d="M656.3,624.7 q-1.8,-7.1 -3.5,-3.5" fill="none" stroke="#444644" stroke-width="2.00" />
<path d="M927.4,549.1 q1.4,-2.8 2.7,-1.4" fill="none" stroke="#5a5c5a" stroke-width="2.00" />
<path d="M647.5,538.0 q6.9,6.6 13.7,3.3" fill="none" stroke="#5a5c5a" stroke-width="1.50" />
<path d="M847.0,558.5 q3.9,-1.3 7.8,-0.7" fill="none" stroke="#5a5c5a" stroke-width="1.50" />
<path d="M938.9,621.7 q-3.4,-8.3 -6.9,-4.2" fill="none" stroke="#2c2e2c" stroke-width="1.12" />
<path d="M778.0,537.5 q-6.5,-2.3 -13.0,-1.2" fill="none" stroke="#444644" stroke-width="2.00" />
<path d="M817.7,611.1 q5.5,6.5 11.1,3.3" fill="none" stroke="#444644" stroke-width="2.00" />
<path d="M976.6,598.6 q-5.7,-3.3 -11.5,-1.6" fill="none" stroke="#5a5c5a" stroke-width="1.12" />
<path d="M672.8,617.9 q0.1,-5.7 0.2,-2.9" fill="none" stroke="#444644" stroke-width="1.12" />
<polygon points="766.0,500.0 1012.0,500.0 1012.0,552.0 911.0,539.0 766.0,529.0" fill="#b3b5b2" stroke="none" stroke-width="0.00" />
<rect x="1000.7" y="547.7" width="5.8" height="3.2" rx="0" fill="#8a8c89" stroke="#383a38" stroke-width="1.00" />
<rect x="997.6" y="514.1" width="8.4" height="3.1" rx="0" fill="#dcdedb" stroke="#383a38" stroke-width="1.00" />
<rect x="912.2" y="530.5" width="9.9" height="6.0" rx="0" fill="#e4e6e3" stroke="#383a38" stroke-width="1.00" />
<rect x="887.0" y="517.2" width="10.0" height="6.8" rx="0" fill="#8a8c89" stroke="#383a38" stroke-width="1.00" />
<rect x="953.7" y="527.9" width="9.2" height="4.9" rx="0" fill="#8a8c89" stroke="#383a38" stroke-width="1.00" />
<rect x="912.1" y="516.5" width="7.9" height="3.7" rx="0" fill="#c5c7c4" stroke="#383a38" stroke-width="1.00" />
<rect x="980.9" y="544.9" width="11.1" height="4.9" rx="0" fill="#c5c7c4" stroke="#383a38" stroke-width="1.00" />
<rect x="979.9" y="517.7" width="10.7" height="3.3" rx="0" fill="#6f716e" stroke="#383a38" stroke-width="1.00" />
<rect x="988.3" y="544.0" width="5.1" height="4.8" rx="0" fill="#dcdedb" stroke="#383a38" stroke-width="1.00" />
<rect x="995.7" y="525.9" width="4.2" height="3.3" rx="0" fill="#8a8c89" stroke="#383a38" stroke-width="1.00" />
<rect x="920.3" y="520.4" width="4.9" height="4.5" rx="0" fill="#8a8c89" stroke="#383a38" stroke-width="1.00" />
<rect x="907.7" y="514.0" width="9.7" height="5.2" rx="0" fill="#c5c7c4" stroke="#383a38" stroke-width="1.00" />
<rect x="934.9" y="517.4" width="7.3" height="4.0" rx="0" fill="#dcdedb" stroke="#383a38" stroke-width="1.00" />
<rect x="913.9" y="542.2" width="6.7" height="3.7" rx="0" fill="#e4e6e3" stroke="#383a38" stroke-width="1.00" />
<rect x="893.7" y="528.4" width="7.9" height="3.6" rx="0" fill="#6f716e" stroke="#383a38" stroke-width="1.00" />
<rect x="887.1" y="544.2" width="9.3" height="3.8" rx="0" fill="#e4e6e3" stroke="#383a38" stroke-width="1.00" />
<rect x="984.4" y="516.3" width="10.0" height="6.9" rx="0" fill="#e4e6e3" stroke="#383a38" stroke-width="1.00" />
<rect x="1003.9" y="547.9" width="11.4" height="3.4" rx="0" fill="#8a8c89" stroke="#383a38" stroke-width="1.00" />
<rect x="932.0" y="517.8" width="10.7" height="6.9" rx="0" fill="#c5c7c4" stroke="#383a38" stroke-width="1.00" />
<rect x="1002.3" y="512.6" width="10.5" height="4.4" rx="0" fill="#c5c7c4" stroke="#383a38" stroke-width="1.00" />
<rect x="935.4" y="540.4" width="11.5" height="4.1" rx="0" fill="#8a8c89" stroke="#383a38" stroke-width="1.00" />
<rect x="934.4" y="544.8" width="5.7" height="5.3" rx="0" fill="#c5c7c4" stroke="#383a38" stroke-width="1.00" />
<rect x="985.4" y="530.8" width="5.8" height="3.7" rx="0" fill="#6f716e" stroke="#383a38" stroke-width="1.00" />
<rect x="889.9" y="515.1" width="8.9" height="5.0" rx="0" fill="#8a8c89" stroke="#383a38" stroke-width="1.00" />
<rect x="901.9" y="516.9" width="9.4" height="5.5" rx="0" fill="#c5c7c4" stroke="#383a38" stroke-width="1.00" />
<rect x="952.9" y="519.3" width="4.5" height="5.9" rx="0" fill="#e4e6e3" stroke="#383a38" stroke-width="1.00" />
<polygon points="905.0,512.0 975.0,516.0 978.0,522.0 905.0,520.0" fill="#dadcd9" stroke="#383a38" stroke-width="1.12" />
<polygon points="920.0,522.0 975.0,525.0 975.0,531.0 920.0,529.0" fill="#c1c3c0" stroke="#383a38" stroke-width="1.12" />
<polygon points="980.0,518.0 1000.0,510.0 1008.0,520.0 996.0,532.0 984.0,530.0" fill="#d4d6d3" stroke="#383a38" stroke-width="1.12" />
<path d="M769,529 L875,538 C876,556 868,570 850,578 C838,583 822,584 808,582 C790,579 776,570 771,556 Z" fill="url(#g2cover)" stroke="#383a38" stroke-width="1.25" />
<path d="M786,546 C790,536 802,533 822,533 C842,533 856,537 860,548 C862,556 856,562 846,563 L836,560 L804,560 L796,564 C788,562 784,554 786,546 Z" fill="#d8dad7" stroke="#2e302e" stroke-width="1.38" />
<path d="M790,548 C794,540 804,537 822,537 C840,537 852,541 856,549 C857,555 852,559 846,559" fill="none" stroke="#5a5c5a" stroke-width="1.00" />
<ellipse cx="818.5" cy="551.0" rx="13.5" ry="8.5" fill="#c5c7c4" stroke="#2e302e" stroke-width="1.38" />
<ellipse cx="818.5" cy="551.5" rx="8.6" ry="5.4" fill="#8f918e" stroke="#1e201e" stroke-width="2.00" />
<ellipse cx="818.5" cy="550.4" rx="6.0" ry="3.2" fill="#c9cbc8" stroke="#4a4c4a" stroke-width="0.88" />
<ellipse cx="797.5" cy="553.0" rx="4.6" ry="2.6" fill="#e3e5e2" stroke="#2e302e" stroke-width="1.25" />
<ellipse cx="847.5" cy="553.5" rx="4.6" ry="2.6" fill="#e3e5e2" stroke="#2e302e" stroke-width="1.25" />
<rect x="808.5" y="565.0" width="28.5" height="8.0" rx="1.5" fill="#c0c2bf" stroke="#3a3c3a" stroke-width="1.25" />
<polygon points="876.0,538.0 900.0,541.0 903.0,575.0 880.0,574.0" fill="#9a9c99" stroke="#383a38" stroke-width="1.12" />
<rect x="879.0" y="541.0" width="2.4" height="32.0" rx="0" fill="#d3d5d2" stroke="#4a4c4a" stroke-width="0.75" />
<rect x="883.6" y="541.4" width="2.4" height="32.0" rx="0" fill="#d3d5d2" stroke="#4a4c4a" stroke-width="0.75" />
<rect x="888.2" y="541.8" width="2.4" height="32.0" rx="0" fill="#d3d5d2" stroke="#4a4c4a" stroke-width="0.75" />
<rect x="892.8" y="542.2" width="2.4" height="32.0" rx="0" fill="#d3d5d2" stroke="#4a4c4a" stroke-width="0.75" />
<rect x="897.4" y="542.6" width="2.4" height="32.0" rx="0" fill="#d3d5d2" stroke="#4a4c4a" stroke-width="0.75" />
<path d="M858,590 C866,580 880,578 892,584 C900,590 900,600 894,606 L870,608 Z" fill="#c9cbc8" stroke="#383a38" stroke-width="1.25" />
<path d="M862,596 C870,588 882,588 890,594 M866,602 C874,594 884,595 890,600" fill="none" stroke="#2c2e2c" stroke-width="1.50" />
<polygon points="850.0,590.0 862.0,598.0 850.0,608.0" fill="#e2e4e1" stroke="#383a38" stroke-width="1.12" />
<path d="M894,598 C900,590 908,592 910,600 C911,606 906,610 900,608" fill="#8a8c89" stroke="#222422" stroke-width="1.75" />
<polygon points="900.0,574.0 930.0,577.0 934.0,602.0 902.0,600.0" fill="#8e908d" stroke="#383a38" stroke-width="1.12" />
<rect x="902.0" y="575.0" width="2.0" height="25.0" rx="0" fill="#c8cac7" stroke="#4a4c4a" stroke-width="0.62" />
<rect x="906.3" y="575.4" width="2.0" height="25.0" rx="0" fill="#c8cac7" stroke="#4a4c4a" stroke-width="0.62" />
<rect x="910.6" y="575.8" width="2.0" height="25.0" rx="0" fill="#c8cac7" stroke="#4a4c4a" stroke-width="0.62" />
<rect x="914.9" y="576.2" width="2.0" height="25.0" rx="0" fill="#c8cac7" stroke="#4a4c4a" stroke-width="0.62" />
<rect x="919.2" y="576.6" width="2.0" height="25.0" rx="0" fill="#c8cac7" stroke="#4a4c4a" stroke-width="0.62" />
<rect x="923.5" y="577.0" width="2.0" height="25.0" rx="0" fill="#c8cac7" stroke="#4a4c4a" stroke-width="0.62" />
<rect x="927.8" y="577.4" width="2.0" height="25.0" rx="0" fill="#c8cac7" stroke="#4a4c4a" stroke-width="0.62" />
<polygon points="932.0,562.0 999.0,562.0 1005.0,568.0 1003.5,575.5 945.0,584.5 936.0,583.0" fill="#dfe1de" stroke="#2e302e" stroke-width="1.25" />
<path d="M936,566 C960,563 985,563 1000,566" fill="none" stroke="#a0a2a0" stroke-width="0.75" />
<polygon points="936.0,584.0 945.0,585.5 1003.5,576.5 1008.0,594.0 949.5,615.0 940.0,612.0" fill="#747673" stroke="#2e302e" stroke-width="1.25" />
<polygon points="946.0,586.5 948.3,586.2 952.3,611.9 950.0,612.5" fill="#d8dad7" stroke="#3a3c3a" stroke-width="0.62" />
<rect x="949.7" y="611.3" width="2.8" height="3.0" rx="0" fill="#e0e2df" stroke="#3a3c3a" stroke-width="0.62" />
<polygon points="950.0,585.9 952.3,585.6 956.3,610.6 954.0,611.2" fill="#d8dad7" stroke="#3a3c3a" stroke-width="0.62" />
<rect x="953.7" y="610.0" width="2.8" height="3.0" rx="0" fill="#e0e2df" stroke="#3a3c3a" stroke-width="0.62" />
<polygon points="954.0,585.3 956.3,585.0 960.3,609.3 958.0,609.9" fill="#d8dad7" stroke="#3a3c3a" stroke-width="0.62" />
<rect x="957.7" y="608.7" width="2.8" height="3.0" rx="0" fill="#e0e2df" stroke="#3a3c3a" stroke-width="0.62" />
<polygon points="958.0,584.7 960.3,584.4 964.3,607.9 962.0,608.5" fill="#d8dad7" stroke="#3a3c3a" stroke-width="0.62" />
<rect x="961.7" y="607.3" width="2.8" height="3.0" rx="0" fill="#e0e2df" stroke="#3a3c3a" stroke-width="0.62" />
<polygon points="962.0,584.1 964.3,583.8 968.3,606.6 966.0,607.2" fill="#d8dad7" stroke="#3a3c3a" stroke-width="0.62" />
<rect x="965.7" y="606.0" width="2.8" height="3.0" rx="0" fill="#e0e2df" stroke="#3a3c3a" stroke-width="0.62" />
<polygon points="966.0,583.5 968.3,583.2 972.3,605.3 970.0,605.9" fill="#d8dad7" stroke="#3a3c3a" stroke-width="0.62" />
<rect x="969.7" y="604.7" width="2.8" height="3.0" rx="0" fill="#e0e2df" stroke="#3a3c3a" stroke-width="0.62" />
<polygon points="970.0,582.9 972.3,582.6 976.3,604.0 974.0,604.6" fill="#d8dad7" stroke="#3a3c3a" stroke-width="0.62" />
<rect x="973.7" y="603.4" width="2.8" height="3.0" rx="0" fill="#e0e2df" stroke="#3a3c3a" stroke-width="0.62" />
<polygon points="974.0,582.2 976.3,582.0 980.3,602.6 978.0,603.2" fill="#d8dad7" stroke="#3a3c3a" stroke-width="0.62" />
<rect x="977.7" y="602.0" width="2.8" height="3.0" rx="0" fill="#e0e2df" stroke="#3a3c3a" stroke-width="0.62" />
<polygon points="978.0,581.6 980.3,581.3 984.3,601.3 982.0,601.9" fill="#d8dad7" stroke="#3a3c3a" stroke-width="0.62" />
<rect x="981.7" y="600.7" width="2.8" height="3.0" rx="0" fill="#e0e2df" stroke="#3a3c3a" stroke-width="0.62" />
<polygon points="982.0,581.0 984.3,580.7 988.3,600.0 986.0,600.6" fill="#d8dad7" stroke="#3a3c3a" stroke-width="0.62" />
<rect x="985.7" y="599.4" width="2.8" height="3.0" rx="0" fill="#e0e2df" stroke="#3a3c3a" stroke-width="0.62" />
<polygon points="986.0,580.4 988.3,580.1 992.3,598.7 990.0,599.3" fill="#d8dad7" stroke="#3a3c3a" stroke-width="0.62" />
<rect x="989.7" y="598.1" width="2.8" height="3.0" rx="0" fill="#e0e2df" stroke="#3a3c3a" stroke-width="0.62" />
<polygon points="990.0,579.8 992.3,579.5 996.3,597.4 994.0,598.0" fill="#d8dad7" stroke="#3a3c3a" stroke-width="0.62" />
<rect x="993.7" y="596.8" width="2.8" height="3.0" rx="0" fill="#e0e2df" stroke="#3a3c3a" stroke-width="0.62" />
<polygon points="994.0,579.2 996.3,578.9 1000.3,596.0 998.0,596.6" fill="#d8dad7" stroke="#3a3c3a" stroke-width="0.62" />
<rect x="997.7" y="595.4" width="2.8" height="3.0" rx="0" fill="#e0e2df" stroke="#3a3c3a" stroke-width="0.62" />
<polygon points="998.0,578.6 1000.3,578.3 1004.3,594.7 1002.0,595.3" fill="#d8dad7" stroke="#3a3c3a" stroke-width="0.62" />
<rect x="1001.7" y="594.1" width="2.8" height="3.0" rx="0" fill="#e0e2df" stroke="#3a3c3a" stroke-width="0.62" />
<polygon points="1002.0,578.0 1004.3,577.7 1008.3,593.4 1006.0,594.0" fill="#d8dad7" stroke="#3a3c3a" stroke-width="0.62" />
<rect x="1005.7" y="592.8" width="2.8" height="3.0" rx="0" fill="#e0e2df" stroke="#3a3c3a" stroke-width="0.62" />
<ellipse cx="951.0" cy="547.5" rx="6.0" ry="2.6" fill="#d0d2cf" stroke="#383a38" stroke-width="1.12" />
<rect x="945.0" y="547.5" width="12.0" height="3.0" rx="0" fill="#bfc1be" stroke="#383a38" stroke-width="1.00" />
<path d="M905,603 C925,600 940,602 950,606 C958,610 960,618 962,627" fill="none" stroke="#1e201e" stroke-width="2.25" />
<path d="M940,606 C948,612 950,620 950,628" fill="none" stroke="#2c2e2c" stroke-width="1.25" />
<polygon points="756.0,616.5 914.0,616.5 918.0,630.0 752.0,630.0" fill="#9c9e9b" stroke="#2e302e" stroke-width="1.25" />
<rect x="759.0" y="618.2" width="6.8" height="4.6" rx="0" fill="#e2e4e1" stroke="#4a4c4a" stroke-width="0.75" />
<rect x="759.0" y="624.2" width="6.8" height="4.2" rx="0" fill="#d3d5d2" stroke="#4a4c4a" stroke-width="0.75" />
<rect x="768.3" y="618.2" width="6.8" height="4.6" rx="0" fill="#e2e4e1" stroke="#4a4c4a" stroke-width="0.75" />
<rect x="768.3" y="624.2" width="6.8" height="4.2" rx="0" fill="#d3d5d2" stroke="#4a4c4a" stroke-width="0.75" />
<rect x="777.6" y="618.2" width="6.8" height="4.6" rx="0" fill="#e2e4e1" stroke="#4a4c4a" stroke-width="0.75" />
<rect x="777.6" y="624.2" width="6.8" height="4.2" rx="0" fill="#d3d5d2" stroke="#4a4c4a" stroke-width="0.75" />
<rect x="786.9" y="618.2" width="6.8" height="4.6" rx="0" fill="#e2e4e1" stroke="#4a4c4a" stroke-width="0.75" />
<rect x="786.9" y="624.2" width="6.8" height="4.2" rx="0" fill="#d3d5d2" stroke="#4a4c4a" stroke-width="0.75" />
<rect x="796.2" y="618.2" width="6.8" height="4.6" rx="0" fill="#e2e4e1" stroke="#4a4c4a" stroke-width="0.75" />
<rect x="796.2" y="624.2" width="6.8" height="4.2" rx="0" fill="#d3d5d2" stroke="#4a4c4a" stroke-width="0.75" />
<rect x="805.5" y="618.2" width="6.8" height="4.6" rx="0" fill="#e2e4e1" stroke="#4a4c4a" stroke-width="0.75" />
<rect x="805.5" y="624.2" width="6.8" height="4.2" rx="0" fill="#d3d5d2" stroke="#4a4c4a" stroke-width="0.75" />
<rect x="814.8" y="618.2" width="6.8" height="4.6" rx="0" fill="#e2e4e1" stroke="#4a4c4a" stroke-width="0.75" />
<rect x="814.8" y="624.2" width="6.8" height="4.2" rx="0" fill="#d3d5d2" stroke="#4a4c4a" stroke-width="0.75" />
<rect x="824.1" y="618.2" width="6.8" height="4.6" rx="0" fill="#e2e4e1" stroke="#4a4c4a" stroke-width="0.75" />
<rect x="824.1" y="624.2" width="6.8" height="4.2" rx="0" fill="#d3d5d2" stroke="#4a4c4a" stroke-width="0.75" />
<rect x="833.4" y="618.2" width="6.8" height="4.6" rx="0" fill="#e2e4e1" stroke="#4a4c4a" stroke-width="0.75" />
<rect x="833.4" y="624.2" width="6.8" height="4.2" rx="0" fill="#d3d5d2" stroke="#4a4c4a" stroke-width="0.75" />
<rect x="842.7" y="618.2" width="6.8" height="4.6" rx="0" fill="#e2e4e1" stroke="#4a4c4a" stroke-width="0.75" />
<rect x="842.7" y="624.2" width="6.8" height="4.2" rx="0" fill="#d3d5d2" stroke="#4a4c4a" stroke-width="0.75" />
<rect x="852.0" y="618.2" width="6.8" height="4.6" rx="0" fill="#e2e4e1" stroke="#4a4c4a" stroke-width="0.75" />
<rect x="852.0" y="624.2" width="6.8" height="4.2" rx="0" fill="#d3d5d2" stroke="#4a4c4a" stroke-width="0.75" />
<rect x="861.3" y="618.2" width="6.8" height="4.6" rx="0" fill="#e2e4e1" stroke="#4a4c4a" stroke-width="0.75" />
<rect x="861.3" y="624.2" width="6.8" height="4.2" rx="0" fill="#d3d5d2" stroke="#4a4c4a" stroke-width="0.75" />
<rect x="870.6" y="618.2" width="6.8" height="4.6" rx="0" fill="#e2e4e1" stroke="#4a4c4a" stroke-width="0.75" />
<rect x="870.6" y="624.2" width="6.8" height="4.2" rx="0" fill="#d3d5d2" stroke="#4a4c4a" stroke-width="0.75" />
<rect x="879.9" y="618.2" width="6.8" height="4.6" rx="0" fill="#e2e4e1" stroke="#4a4c4a" stroke-width="0.75" />
<rect x="879.9" y="624.2" width="6.8" height="4.2" rx="0" fill="#d3d5d2" stroke="#4a4c4a" stroke-width="0.75" />
<rect x="889.2" y="618.2" width="6.8" height="4.6" rx="0" fill="#e2e4e1" stroke="#4a4c4a" stroke-width="0.75" />
<rect x="889.2" y="624.2" width="6.8" height="4.2" rx="0" fill="#d3d5d2" stroke="#4a4c4a" stroke-width="0.75" />
<rect x="898.5" y="618.2" width="6.8" height="4.6" rx="0" fill="#e2e4e1" stroke="#4a4c4a" stroke-width="0.75" />
<rect x="898.5" y="624.2" width="6.8" height="4.2" rx="0" fill="#d3d5d2" stroke="#4a4c4a" stroke-width="0.75" />
<rect x="907.8" y="618.2" width="6.8" height="4.6" rx="0" fill="#e2e4e1" stroke="#4a4c4a" stroke-width="0.75" />
<rect x="907.8" y="624.2" width="6.8" height="4.2" rx="0" fill="#d3d5d2" stroke="#4a4c4a" stroke-width="0.75" />
<path d="M752,630.5 H918" fill="none" stroke="#2a2c2a" stroke-width="1.50" />
<rect x="832.0" y="600.0" width="24.0" height="14.0" rx="0" fill="#b1b3b0" stroke="#383a38" stroke-width="1.12" />
<rect x="836.0" y="610.0" width="16.0" height="5.0" rx="0" fill="#8b8d8a" stroke="#383a38" stroke-width="1.00" />
<rect x="835.5" y="577.0" width="3.6" height="34.0" rx="0" fill="#cfd1ce" stroke="#2e302e" stroke-width="1.12" />
<rect x="846.0" y="581.0" width="3.6" height="30.0" rx="0" fill="#cfd1ce" stroke="#2e302e" stroke-width="1.12" />
<path d="M826,578 C822,584 822,592 826,598 L834,598 L834,580 Z" fill="#d6d8d5" stroke="#383a38" stroke-width="1.25" />
<circle cx="828.5" cy="592.5" r="1.8" fill="#1a1a1a" stroke="#1a1a1a" stroke-width="0.62"/>
<polygon points="856.0,586.0 870.0,596.0 856.0,607.0" fill="#dfe1de" stroke="#383a38" stroke-width="1.12" />
<polygon points="638.5,555.0 652.5,555.0 650.0,580.5 636.0,580.5" fill="url(#g2box)" stroke="#383a38" stroke-width="1.12" />
<polygon points="653.5,555.0 671.0,555.0 667.0,580.5 651.5,580.5" fill="url(#g2box)" stroke="#383a38" stroke-width="1.12" />
<polygon points="672.0,555.0 697.0,555.0 698.5,585.0 668.5,585.0" fill="url(#g2box)" stroke="#383a38" stroke-width="1.12" />
<path d="M641,553.5 H698" fill="none" stroke="#2e302e" stroke-width="1.75" />
<rect x="679.0" y="571.0" width="17.0" height="13.0" rx="1" fill="#e4e6e3" stroke="#5a5c5a" stroke-width="1.12" />
<polygon points="636.0,580.5 698.5,585.0 698.5,591.0 636.5,587.0" fill="#8a8c89" stroke="#383a38" stroke-width="1.12" />
<rect x="653.0" y="583.0" width="8.0" height="7.0" rx="0" fill="#dcdedb" stroke="#383a38" stroke-width="1.00" />
<rect x="638.0" y="588.0" width="10.0" height="5.0" rx="0" fill="#2e302e" stroke="#1a1a1a" stroke-width="0.75" />
<rect x="639.0" y="593.0" width="9.0" height="5.0" rx="0" fill="#cfd1ce" stroke="#383a38" stroke-width="1.00" />
<path d="M700,556 L727,556 L729,586 C722,591 706,591 699,587 Z" fill="#d0d2cf" stroke="#383a38" stroke-width="1.25" />
<polygon points="724.5,562.5 723.5,563.7 722.2,564.5 722.3,565.9 722.0,567.3 720.2,567.6 718.6,567.4 717.5,568.5 716.0,569.3 714.5,568.5 713.4,567.4 711.8,567.6 710.0,567.3 709.7,565.9 709.8,564.5 708.5,563.7 707.5,562.5 708.5,561.3 709.8,560.5 709.7,559.1 710.0,557.7 711.8,557.4 713.4,557.6 714.5,556.5 716.0,555.7 717.5,556.5 718.6,557.6 720.2,557.4 722.0,557.7 722.3,559.1 722.2,560.5 723.5,561.3" fill="#b1b3b0" stroke="#383a38" stroke-width="1.12" />
<path d="M699,587 C706,593 722,593 729,588 L730,608 L700,606 Z" fill="#dcdedb" stroke="#383a38" stroke-width="1.12" />
<ellipse cx="723.5" cy="580.5" rx="1.8" ry="2.8" fill="#e9ebe8" stroke="#2e302e" stroke-width="1.12" />
<path d="M725,580 L760,581 C768,582 772,584 776,587" fill="none" stroke="#2e302e" stroke-width="3.25" />
<path d="M725,580 L760,581 C768,582 772,584 776,587" fill="none" stroke="#d9dbd8" stroke-width="1.50" />
<path d="M660,598 C668,594 676,598 680,604" fill="none" stroke="#2c2e2c" stroke-width="1.75" />
<polygon points="664.0,596.0 676.0,600.0 674.0,610.0 662.0,606.0" fill="#c3c5c2" stroke="#383a38" stroke-width="1.12" />
<ellipse cx="683.0" cy="604.0" rx="4.0" ry="6.5" fill="#d0d2cf" stroke="#2c2e2c" stroke-width="1.50" />
<ellipse cx="689.0" cy="606.0" rx="4.0" ry="6.5" fill="#b5b7b4" stroke="#2c2e2c" stroke-width="1.50" />
<polygon points="693.0,607.0 708.0,610.0 706.0,620.0 692.0,616.0" fill="#e1e3e0" stroke="#383a38" stroke-width="1.12" />
<path d="M708,614 C722,616 730,612 734,600 L735,588" fill="none" stroke="#2e302e" stroke-width="5.25" />
<path d="M708,614 C722,616 730,612 734,600 L735,588" fill="none" stroke="#cdcfcc" stroke-width="3.25" />
<path d="M746,596 C746,590 752,588 760,588 L800,588 L802,616 L748,616 Z" fill="#dcdedb" stroke="#383a38" stroke-width="1.25" />
<polygon points="751.5,597.0 750.5,598.2 749.2,599.0 749.3,600.4 749.0,601.8 747.2,602.1 745.6,601.9 744.5,603.0 743.0,603.8 741.5,603.0 740.4,601.9 738.8,602.1 737.0,601.8 736.7,600.4 736.8,599.0 735.5,598.2 734.5,597.0 735.5,595.8 736.8,595.0 736.7,593.6 737.0,592.2 738.8,591.9 740.4,592.1 741.5,591.0 743.0,590.2 744.5,591.0 745.6,592.1 747.2,591.9 749.0,592.2 749.3,593.6 749.2,595.0 750.5,595.8" fill="#b7b9b6" stroke="#383a38" stroke-width="1.12" />
<polygon points="794.5,600.0 793.5,601.2 792.2,602.0 792.3,603.4 792.0,604.8 790.2,605.1 788.6,604.9 787.5,606.0 786.0,606.8 784.5,606.0 783.4,604.9 781.8,605.1 780.0,604.8 779.7,603.4 779.8,602.0 778.5,601.2 777.5,600.0 778.5,598.8 779.8,598.0 779.7,596.6 780.0,595.2 781.8,594.9 783.4,595.1 784.5,594.0 786.0,593.2 787.5,594.0 788.6,595.1 790.2,594.9 792.0,595.2 792.3,596.6 792.2,598.0 793.5,598.8" fill="#b7b9b6" stroke="#383a38" stroke-width="1.12" />
<path d="M766,590 L768,616" fill="none" stroke="#4a4c4a" stroke-width="2.00" />
<path d="M771,566 C766,566 762,570 762,576 L764,592 L778,596 L786,590 L784,574 Z" fill="#c2c4c1" stroke="#383a38" stroke-width="1.25" />
<ellipse cx="770.0" cy="574.0" rx="2.2" ry="3.2" fill="#dcdedb" stroke="#2e302e" stroke-width="1.25" />
<path d="M764,584 C770,588 778,588 784,584" fill="none" stroke="#383a38" stroke-width="1.25" />
<rect x="756.0" y="588.0" width="6.0" height="10.0" rx="0" fill="#d9dbd8" stroke="#383a38" stroke-width="1.12" />
<rect x="796.0" y="590.0" width="7.0" height="9.0" rx="0" fill="#d9dbd8" stroke="#383a38" stroke-width="1.12" />
<rect x="806.0" y="592.0" width="6.0" height="12.0" rx="0" fill="#c5c7c4" stroke="#383a38" stroke-width="1.12" />
</g>
<path d="M638.5,551 C636,562 634,572 634.7,580 C635,588 638,594 644.5,600 L667,612 L692.5,621 L722.5,628.5 C735,631 745,631 755,631 L915,630 C930,629 940,626.5 949.5,621.5 L1000,601.5 C1008,598 1013,592 1015.5,582 C1019,565 1016,540 1012,520" fill="none" stroke="#2c2e2c" stroke-width="1.88" />
<path d="M645,606 C700,632 760,640 830,641 L930,640 C960,638 990,626 1012,608" fill="none" stroke="#aeb0ad" stroke-width="1.00" />
<path d="M620,640 C700,652 760,655 790,655 L800,658 L960,658 L972,652 C1000,648 1030,640 1046,630" fill="none" stroke="#bfc1be" stroke-width="2.00" />
<path d="M672,648 L720,656 M640,660 L700,670" fill="none" stroke="#c3c5c2" stroke-width="1.25" />
<path d="M712,672 L716,659 L726,659 L723,672 M760,672 L762,661 L772,661 L771,672 M886,672 L884,663 L896,663 L898,672 M938,672 L936,663 L948,663 L950,672" fill="none" stroke="#b4b6b3" stroke-width="1.25" />
<circle cx="628.0" cy="602.0" r="1.4" fill="#b2b4b1" stroke="none" stroke-width="0.00"/>
<circle cx="662.0" cy="615.0" r="1.4" fill="#b2b4b1" stroke="none" stroke-width="0.00"/>
<circle cx="694.0" cy="636.0" r="1.4" fill="#b2b4b1" stroke="none" stroke-width="0.00"/>
<circle cx="625.0" cy="650.0" r="1.4" fill="#b2b4b1" stroke="none" stroke-width="0.00"/>
<circle cx="770.0" cy="639.0" r="1.4" fill="#b2b4b1" stroke="none" stroke-width="0.00"/>
<circle cx="879.0" cy="639.0" r="1.4" fill="#b2b4b1" stroke="none" stroke-width="0.00"/>
<circle cx="952.0" cy="638.0" r="1.4" fill="#b2b4b1" stroke="none" stroke-width="0.00"/>
<circle cx="1021.0" cy="654.0" r="1.4" fill="#b2b4b1" stroke="none" stroke-width="0.00"/>
<circle cx="984.0" cy="617.0" r="1.4" fill="#b2b4b1" stroke="none" stroke-width="0.00"/>
<circle cx="625.0" cy="615.0" r="4.0" fill="#dcdedb" stroke="#b4b6b3" stroke-width="1.50"/>
<circle cx="625.0" cy="615.0" r="1.8" fill="#c9cbc8" stroke="none" stroke-width="0.00"/>
<circle cx="1024.0" cy="616.0" r="4.0" fill="#dcdedb" stroke="#b4b6b3" stroke-width="1.50"/>
<circle cx="1022.0" cy="605.0" r="1.8" fill="#a9aba8" stroke="none" stroke-width="0.00"/>
<polygon points="596.0,551.0 638.5,551.0 634.7,580.0 610.0,640.0 604.0,656.0 596.0,672.0" fill="#d3d5d2" stroke="none" stroke-width="0.00" />
<polygon points="617.5,551.0 625.7,551.0 608.5,648.0 603.0,652.5" fill="#8c8e8b" stroke="#3a3c3a" stroke-width="1.12" />
<polygon points="605.5,551.0 610.0,551.0 598.0,610.0 596.0,606.0" fill="#e6e8e5" stroke="#5a5c5a" stroke-width="1.00" />
<path d="M600,551 L596,580" fill="none" stroke="#5a5c5a" stroke-width="1.12" />
<polygon points="596.0,628.0 603.0,652.5 630.0,672.0 596.0,672.0" fill="#a4a6a3" stroke="#5a5c5a" stroke-width="1.00" />
<path d="M603,652.5 L608.5,648 L616,660" fill="none" stroke="#6a6c6a" stroke-width="1.00" />
<path d="M766,499.2 L1008,546.8 L1008.5,548.2 L911,538.2 L766,528.3 Z" fill="#08090a" stroke="none" stroke-width="0.00" />
<polygon points="1000.0,545.0 1009.0,541.0 1010.0,549.0 1002.0,551.0" fill="#0c0d0e" stroke="none" stroke-width="0.00" />
<rect x="602.6" y="416.8" width="161.7" height="132.0" rx="0" fill="#b0b2af" stroke="none" stroke-width="0.00" />
<g clip-path="url(#c2in)">
<polygon points="604.0,418.0 680.0,418.0 650.0,470.0 604.0,474.0" fill="#b3b5b2" stroke="none" stroke-width="0.00" />
<polygon points="626.0,418.0 676.0,418.0 664.0,466.0 640.0,462.0 636.0,440.0" fill="#dcdedb" stroke="#4a4c4a" stroke-width="1.12" />
<path d="M622,418 C636,432 640,446 638,462 M604,444 C612,456 620,464 636,464" fill="none" stroke="#383a38" stroke-width="1.12" />
<polygon points="676.0,418.0 700.0,418.0 720.0,452.0 716.0,478.0 690.0,488.0 664.0,468.0" fill="#b1b3b0" stroke="#4a4c4a" stroke-width="1.12" />
<path d="M676,432 L684,428 L692,432 L698,450 M664,462 L654,462 L652,458" fill="none" stroke="#5a5c5a" stroke-width="1.12" />
<polygon points="700.0,418.0 762.0,418.0 762.0,548.0 750.0,548.0 732.0,492.0 722.0,456.0" fill="#b4b6b3" stroke="#4a4c4a" stroke-width="1.12" />
<ellipse cx="751.0" cy="427.0" rx="9.0" ry="7.0" fill="#cfd1ce" stroke="none" stroke-width="0.00" />
<path d="M604,462 C612,470 624,470 640,466 C656,462 668,466 676,480" fill="none" stroke="#4a4c4a" stroke-width="11.25" />
<path d="M604,462 C612,470 624,470 640,466 C656,462 668,466 676,480" fill="none" stroke="#d9dbd8" stroke-width="8.75" />
<polygon points="604.0,481.0 706.0,483.0 720.0,480.0 730.0,486.0 724.0,506.0 710.0,508.0 604.0,510.0" fill="url(#g2tube)" stroke="#3a3c3a" stroke-width="1.25" />
<path d="M640,480 C644,490 644,502 640,510" fill="none" stroke="#383a38" stroke-width="1.25" />
<rect x="604.0" y="483.0" width="18.0" height="22.0" rx="3" fill="#d5d7d4" stroke="#4a4c4a" stroke-width="1.12" />
<polygon points="622.0,479.5 640.0,479.5 642.0,495.0 640.0,510.5 622.0,510.5" fill="url(#g2tube)" stroke="#3a3c3a" stroke-width="1.25" />
<polygon points="604.0,511.0 668.0,511.0 668.0,534.0 604.0,534.0" fill="url(#g2tubeh)" stroke="#4a4c4a" stroke-width="1.00" />
<polygon points="668.0,511.0 750.0,511.0 756.0,534.0 668.0,534.0" fill="#a7a9a6" stroke="#4a4c4a" stroke-width="1.12" />
<path d="M690,511 C700,520 720,526 750,528 M700,511 C712,518 730,520 746,520" fill="none" stroke="#d5d7d4" stroke-width="3.25" />
<path d="M688,512 C700,522 720,528 752,530 M704,511 C714,516 730,518 744,518" fill="none" stroke="#4a4c4a" stroke-width="1.00" />
<polygon points="604.0,534.0 760.0,534.0 762.0,548.0 604.0,548.0" fill="#d5d7d4" stroke="#4a4c4a" stroke-width="1.12" />
<path d="M604,540 C640,536 700,540 762,546" fill="none" stroke="#6a6c6a" stroke-width="1.12" />
<path d="M612,512 C618,524 616,534 606,540" fill="none" stroke="#d9dbd8" stroke-width="4.50" />
<path d="M616,512 C622,524 620,536 608,544" fill="none" stroke="#383a38" stroke-width="1.12" />
<ellipse cx="724.0" cy="496.5" rx="11.5" ry="6.6" fill="none" stroke="#262826" stroke-width="2.75" transform="rotate(-24 724 496.5)"/>
<path d="M732,486 C738,488 742,496 750,548" fill="none" stroke="#4a4c4a" stroke-width="1.12" />
<polygon points="682.4,467.5 705.6,448.6 705.6,458.8 713.6,458.8 713.6,477 705.6,477 705.6,485.7" fill="#08090a" stroke="#f2f2f2" stroke-width="1.5" paint-order="stroke"/>
<rect x="718.0" y="458.8" width="12.4" height="18.2" rx="0" fill="#08090a" stroke="#f2f2f2" stroke-width="1.75" paint-order="stroke"/>
<rect x="734.7" y="458.8" width="17.5" height="18.2" rx="0" fill="#08090a" stroke="#f2f2f2" stroke-width="1.75" paint-order="stroke"/>
</g>
<rect x="602.6" y="416.8" width="161.7" height="132" fill="none" stroke="#08090a" stroke-width="3.6"/>
<polygon points="602.0,411.5 766.0,411.5 766.0,415.0 600.0,415.0" fill="#c4c6c3" stroke="none" stroke-width="0.00" />
<rect x="958.9" y="658.5" width="89.5" height="11.7" rx="0" fill="#fff" stroke="none" stroke-width="0.00" />
<text x="961" y="668.2" textLength="85.5" lengthAdjust="spacingAndGlyphs" style="font-size:10.4px;font-weight:bold;fill:#111;stroke:none">A0202000120US</text>
</g></g>
<!-- ===== image 3 : LED indicator ===== -->
<defs>
<linearGradient id="g3body" x1="0" y1="0" x2="0" y2="1"><stop offset="0" stop-color="#b4b6b2"/><stop offset="0.45" stop-color="#cdcfcb"/><stop offset="1" stop-color="#dbddd9"/></linearGradient>
<linearGradient id="g3cab" x1="0" y1="0" x2="0" y2="1"><stop offset="0" stop-color="#b9bbb7"/><stop offset="0.4" stop-color="#dcdeda"/><stop offset="1" stop-color="#a9aba7"/></linearGradient>
<linearGradient id="g3rib" x1="0" y1="0" x2="1" y2="0"><stop offset="0" stop-color="#8d8f8b"/><stop offset="0.5" stop-color="#e2e4e0"/><stop offset="1" stop-color="#8d8f8b"/></linearGradient>
</defs>
<g id="img3" filter="url(#soft)">
<!-- left cable -->
<path d="M1102,390 L1138.5,388 L1138.5,400.5 L1103.5,402.5 Z" fill="url(#g3cab)" stroke="#2b2b2b" stroke-width="1"/>
<!-- left strain relief -->
<path d="M1140,383 L1178,377.5 L1178,410.5 L1140,405 Z" fill="#5a5c5a"/>
<g fill="url(#g3rib)" stroke="#3a3a3a" stroke-width="0.8">
<rect x="1138.6" y="380.5" width="5.4" height="26.5" rx="2.5"/>
<rect x="1145.6" y="379.5" width="4.6" height="29.5" rx="2.3"/>
<rect x="1151.6" y="377.5" width="5.4" height="33" rx="2.6"/>
<rect x="1158.4" y="377" width="4.8" height="34.5" rx="2.4"/>
<rect x="1164.4" y="376.5" width="4.8" height="35.5" rx="2.4"/>
<rect x="1170.2" y="375" width="5" height="38" rx="2.4"/>
<rect x="1176.6" y="375" width="3.6" height="37" rx="1"/>
</g>
<!-- right cable -->
<path d="M1543,390.5 L1505,388 L1505,400.5 L1542,403 Z" fill="url(#g3cab)" stroke="#2b2b2b" stroke-width="1"/>
<path d="M1504,383 L1466,377.5 L1466,410.5 L1504,405 Z" fill="#5a5c5a"/>
<g fill="url(#g3rib)" stroke="#3a3a3a" stroke-width="0.8">
<rect x="1500" y="380.5" width="5.4" height="26.5" rx="2.5"/>
<rect x="1493.8" y="379.5" width="4.6" height="29.5" rx="2.3"/>
<rect x="1487" y="377.5" width="5.4" height="33" rx="2.6"/>
<rect x="1480.8" y="377" width="4.8" height="34.5" rx="2.4"/>
<rect x="1474.8" y="376.5" width="4.8" height="35.5" rx="2.4"/>
<rect x="1468.8" y="375" width="5" height="38" rx="2.4"/>
<rect x="1464" y="375" width="3.6" height="37" rx="1"/>
</g>
<!-- box -->
<rect x="1179.5" y="339.2" width="285.5" height="111" rx="10" fill="#8f918d" stroke="#262626" stroke-width="1.2"/>
<rect x="1184" y="341.6" width="276.5" height="104.6" rx="7.5" fill="url(#g3body)" stroke="#6c6e6a" stroke-width="0.8"/>
<path d="M1188,446.8 L1456,446.8" stroke="#5a5c58" stroke-width="1"/>
<rect x="1190" y="447.3" width="265" height="2.4" fill="#b4b6b2"/>
<!-- screen -->
<rect x="1294.3" y="350.3" width="159" height="89" rx="4" fill="#9a9c98" stroke="#5c5e5a" stroke-width="1.2"/>
<!-- icons -->
<g fill="none" stroke="#eceeea" stroke-width="1.1">
<circle cx="1236.5" cy="376.5" r="5.8"/><circle cx="1254.5" cy="376.5" r="5.8"/><circle cx="1272.5" cy="376.5" r="5.8"/>
<path d="M1232.5,376.5 h5 M1236,373.8 a2.9,2.9 0 0 1 0,5.6"/>
<path d="M1251,376.5 h7 M1255.5,374.5 l2.4,2 l-2.4,2"/>
<path d="M1271,373 v7 M1274,373 v7"/>
</g>
<!-- leader lines -->
<g fill="none" stroke="#fdfdfd" stroke-width="3.6"><path d="M1234,395.6 H1212.3 V497"/><path d="M1255.3,400 V497"/><path d="M1276,395.6 H1299.2 V497"/></g>
<g fill="none" stroke="#1e1e1e" stroke-width="1.1"><path d="M1234,395.6 H1212.3 V497"/><path d="M1255.3,400 V497"/><path d="M1276,395.6 H1299.2 V497"/></g>
<!-- LEDs -->
<g>
<circle cx="1236.5" cy="395.4" r="8.2" fill="#1b1b1b"/><circle cx="1254.6" cy="395.4" r="8.2" fill="#1b1b1b"/><circle cx="1272.6" cy="395.4" r="8.2" fill="#1b1b1b"/>
<circle cx="1236.5" cy="395.4" r="5.4" fill="#3d3f3d"/><circle cx="1254.6" cy="395.4" r="5.4" fill="#3d3f3d"/><circle cx="1272.6" cy="395.4" r="5.4" fill="#3d3f3d"/>
<circle cx="1237" cy="395.4" r="3.4" fill="#6f716f"/><circle cx="1254.6" cy="395.6" r="3.4" fill="#747674"/><circle cx="1272.2" cy="395.4" r="3.4" fill="#6f716f"/>
</g>
<path d="M1228,395.6 H1234" stroke="#fdfdfd" stroke-width="2.6"/><path d="M1227,395.6 H1234" stroke="#1e1e1e" stroke-width="1"/>
<path d="M1275,395.6 H1281" stroke="#fdfdfd" stroke-width="2.6"/><path d="M1275,395.6 H1282" stroke="#1e1e1e" stroke-width="1"/>
<path d="M1255.3,398 V404" stroke="#fdfdfd" stroke-width="2.6"/><path d="M1255.3,397 V404" stroke="#1e1e1e" stroke-width="1"/>
<!-- numbered callouts -->
<g>
<circle cx="1212.2" cy="510.3" r="14.2" fill="#cfcfcf"/><circle cx="1255.3" cy="510.3" r="14.2" fill="#cfcfcf"/><circle cx="1299.3" cy="510.3" r="14.2" fill="#cfcfcf"/>
<circle cx="1212.2" cy="510.3" r="13.2" fill="#0c0c0c"/><circle cx="1255.3" cy="510.3" r="13.2" fill="#0c0c0c"/><circle cx="1299.3" cy="510.3" r="13.2" fill="#0c0c0c"/>
<g style="font-size:17.5px;font-weight:bold;fill:#fff;stroke:none" text-anchor="middle">
<text x="1212.2" y="516.6" style="fill:#fff;stroke:none">1</text><text x="1255.3" y="516.6" style="fill:#fff;stroke:none">2</text><text x="1299.3" y="516.6" style="fill:#fff;stroke:none">3</text></g>
</g>
<!-- id label -->
<rect x="1457.6" y="522.3" width="87" height="12.4" fill="#fff" stroke="#555" stroke-width="0.9"/>
<text x="1460" y="532.3" class="lbl" textLength="82" lengthAdjust="spacingAndGlyphs" style="font-size:10.5px;font-weight:bold;fill:#111;stroke:none">A0202000071US</text>
</g>

<g opacity="0.999">
<text class="t" x="100.0" y="126.7" textLength="17.1" lengthAdjust="spacingAndGlyphs">5.</text>
<text class="t" x="138.5" y="126.7" textLength="370.4" lengthAdjust="spacingAndGlyphs">Druk, om het oplaadproces te stoppen, op de</text>
<text class="t" x="138.5" y="150.1" textLength="396.0" lengthAdjust="spacingAndGlyphs">ontgrendelingsknop van de sleutelhouder om de</text>
<text class="t" x="138.5" y="173.4" textLength="381.3" lengthAdjust="spacingAndGlyphs">oplaadaansluiting te ontgrendelen; koppel dan</text>
<text class="t" x="138.5" y="196.8" textLength="359.8" lengthAdjust="spacingAndGlyphs">eerst de laadstekker los van het voertuig en</text>
<text class="t" x="139.4" y="220.1" textLength="345.5" lengthAdjust="spacingAndGlyphs">verwijder dan de Mode 2-laadkabel uit het</text>
<text class="t" x="138.5" y="243.5" textLength="400.2" lengthAdjust="spacingAndGlyphs">stopcontact. Om het koppelingsmechanisme van</text>
<text class="t" x="138.5" y="266.9" textLength="400.4" lengthAdjust="spacingAndGlyphs">het voertuig te ontgrendelen, moet de stekker uit</text>
<text class="t" x="138.5" y="290.2" textLength="398.9" lengthAdjust="spacingAndGlyphs">de oplaadaansluiting van het voertuig verwijderd</text>
<text class="t" x="139.4" y="313.6" textLength="64.9" lengthAdjust="spacingAndGlyphs">worden.</text>
<text class="cap" x="240.5" y="609.8" textLength="215.7" lengthAdjust="spacingAndGlyphs">Laadstekker verwijderen</text>
<text class="cap" x="217.5" y="633.8" textLength="262.4" lengthAdjust="spacingAndGlyphs">uit oplaadaansluiting voertuig</text>
<text class="t" x="98.7" y="677.6" textLength="18.3" lengthAdjust="spacingAndGlyphs">6.</text>
<text class="t" x="137.7" y="677.6" textLength="409.0" lengthAdjust="spacingAndGlyphs">Sluit het klepje van de oplaadaansluiting wanneer</text>
<text class="t" x="138.6" y="700.8" textLength="361.3" lengthAdjust="spacingAndGlyphs">er geen Mode 2-laadkabel op het voertuig is</text>
<text class="t" x="138.6" y="724.0" textLength="106.8" lengthAdjust="spacingAndGlyphs">aangesloten.</text>
<text class="med" x="99.6" y="759.2" textLength="109.6" lengthAdjust="spacingAndGlyphs">OPMERKING:</text>
<text class="t" x="122.7" y="791.2" textLength="381.5" lengthAdjust="spacingAndGlyphs">De laadstekker moet binnen één minuut na de</text>
<text class="t" x="123.6" y="814.6" textLength="423.4" lengthAdjust="spacingAndGlyphs">druk op de ontgrendelingstoets op de sleutelhouder</text>
<text class="t" x="123.6" y="837.9" textLength="421.5" lengthAdjust="spacingAndGlyphs">worden verwijderd, anders zal de oplaadaansluiting</text>
<text class="t" x="123.6" y="861.3" textLength="425.3" lengthAdjust="spacingAndGlyphs">weer vergrendelen en begint het voertuig weer op te</text>
<text class="t" x="122.7" y="884.6" textLength="51.9" lengthAdjust="spacingAndGlyphs">laden.</text>
<text class="t" x="620.0" y="123.1" textLength="362.4" lengthAdjust="spacingAndGlyphs">Aangeraden wordt om tijdens het opladen in</text>
<text class="t" x="619.1" y="146.5" textLength="344.2" lengthAdjust="spacingAndGlyphs">Mode 2 het contactslot in de stand OFF te</text>
<text class="t" x="619.1" y="169.8" textLength="412.8" lengthAdjust="spacingAndGlyphs">houden. Op deze manier worden extra belastingen</text>
<text class="t" x="620.0" y="193.2" textLength="345.9" lengthAdjust="spacingAndGlyphs">van het voertuig, die de Mode 2-laadkabel</text>
<text class="t" x="619.1" y="216.5" textLength="380.4" lengthAdjust="spacingAndGlyphs">moet ondersteunen, beperkt. Extra elektrische</text>
<text class="t" x="619.1" y="239.9" textLength="429.9" lengthAdjust="spacingAndGlyphs">belastingen zullen resulteren in een toename van de</text>
<text class="t" x="620.0" y="263.3" textLength="327.7" lengthAdjust="spacingAndGlyphs">oplaadduur van de hoogspanningsaccu.</text>
<text class="t" x="595.3" y="297.8" textLength="415.6" lengthAdjust="spacingAndGlyphs">In geval de Mode 2-laadkabel niet van het voertuig</text>
<text class="t" x="595.3" y="321.1" textLength="441.6" lengthAdjust="spacingAndGlyphs">kan worden losgekoppeld, is er in de motorruimte een</text>
<text class="t" x="595.3" y="344.4" textLength="412.0" lengthAdjust="spacingAndGlyphs">koord voor handmatige vrijgave aanwezig. Trek het</text>
<text class="t" x="595.3" y="367.7" textLength="433.0" lengthAdjust="spacingAndGlyphs">koord recht uit, in de richting van het midden van het</text>
<text class="t" x="597.1" y="391.0" textLength="386.8" lengthAdjust="spacingAndGlyphs">voertuig, om de Mode 2-laadkabel vrij te geven.</text>
<text class="cap" x="686.0" y="709.1" textLength="277.2" lengthAdjust="spacingAndGlyphs">Koord voor handmatige vrijgave</text>
<text class="h" x="594.3" y="752.3" textLength="449.8" lengthAdjust="spacingAndGlyphs">Problemen oplossen met gebruik van de</text>
<text class="h" x="595.2" y="783.7" textLength="167.3" lengthAdjust="spacingAndGlyphs">statusindicator</text>
<text class="t" x="596.1" y="821.4" textLength="428.6" lengthAdjust="spacingAndGlyphs">Als het voertuig niet goed oplaadt, controleer dan de</text>
<text class="t" x="596.1" y="844.4" textLength="251.5" lengthAdjust="spacingAndGlyphs">controlelampjes van de status.</text>
<text class="t" x="1091.6" y="117.9" textLength="24.0" lengthAdjust="spacingAndGlyphs">De</text>
<text class="t bd" x="1120.1" y="117.9" textLength="93.9" lengthAdjust="spacingAndGlyphs">groene LED</text>
<text class="t" x="1218.5" y="117.9" textLength="312.9" lengthAdjust="spacingAndGlyphs">signaleert de correcte werking van het</text>
<text class="t" x="1092.5" y="141.1" textLength="73.2" lengthAdjust="spacingAndGlyphs">systeem.</text>
<text class="t" x="1091.6" y="175.8" textLength="24.0" lengthAdjust="spacingAndGlyphs">De</text>
<text class="t bd" x="1120.1" y="175.8" textLength="74.1" lengthAdjust="spacingAndGlyphs">rode LED</text>
<text class="t" x="1199.0" y="175.8" textLength="243.6" lengthAdjust="spacingAndGlyphs">signaleert een storing van het</text>
<text class="t" x="1092.5" y="198.8" textLength="129.4" lengthAdjust="spacingAndGlyphs">oplaadsysteem.</text>
<text class="t" x="1091.6" y="234.0" textLength="24.0" lengthAdjust="spacingAndGlyphs">De</text>
<text class="t bd" x="1120.1" y="234.0" textLength="71.5" lengthAdjust="spacingAndGlyphs">gele LED</text>
<text class="t" x="1197.0" y="234.0" textLength="238.0" lengthAdjust="spacingAndGlyphs">signaleert een storing van de</text>
<text class="t" x="1092.5" y="257.2" textLength="152.8" lengthAdjust="spacingAndGlyphs">oplaadaansluiting.</text>
<text class="cap" x="1225.3" y="575.0" textLength="190.9" lengthAdjust="spacingAndGlyphs">LED-lampjes indicator</text>
<text class="t" x="1101.5" y="621.1" textLength="9.3" lengthAdjust="spacingAndGlyphs">1</text>
<text class="t" x="1134.9" y="621.1" textLength="97.7" lengthAdjust="spacingAndGlyphs">Groene LED</text>
<text class="t" x="1101.0" y="644.1" textLength="10.3" lengthAdjust="spacingAndGlyphs">2</text>
<text class="t" x="1134.0" y="644.1" textLength="81.4" lengthAdjust="spacingAndGlyphs">Rode LED</text>
<text class="t" x="1101.0" y="667.1" textLength="10.3" lengthAdjust="spacingAndGlyphs">3</text>
<text class="t" x="1134.9" y="667.1" textLength="74.9" lengthAdjust="spacingAndGlyphs">Gele LED</text>
<text class="t" x="1092.1" y="719.0" textLength="390.7" lengthAdjust="spacingAndGlyphs">Eventuele storingen tijdens het opladen worden</text>
<text class="t" x="1093.0" y="742.4" textLength="417.1" lengthAdjust="spacingAndGlyphs">aangegeven door de leds op de statusindicator van</text>
<text class="t" x="1093.0" y="765.8" textLength="434.6" lengthAdjust="spacingAndGlyphs">de Mode 2-laadkabel, die continu kunnen branden of</text>
<text class="t" x="1092.1" y="789.2" textLength="451.1" lengthAdjust="spacingAndGlyphs">kunnen knipperen. Verwijs naar de onderstaande tabel</text>
<text class="t" x="1093.0" y="812.6" textLength="200.9" lengthAdjust="spacingAndGlyphs">voor probleemoplossing.</text>
<text class="hd" x="1210.1" y="67.2" textLength="294.6" lengthAdjust="spacingAndGlyphs">KENNISMAKING MET UW VOERTUIG</text>
<text class="hdn" x="1527.9" y="67.2" textLength="22.0" lengthAdjust="spacingAndGlyphs">27</text>
</g>
</svg>
</body></html>
